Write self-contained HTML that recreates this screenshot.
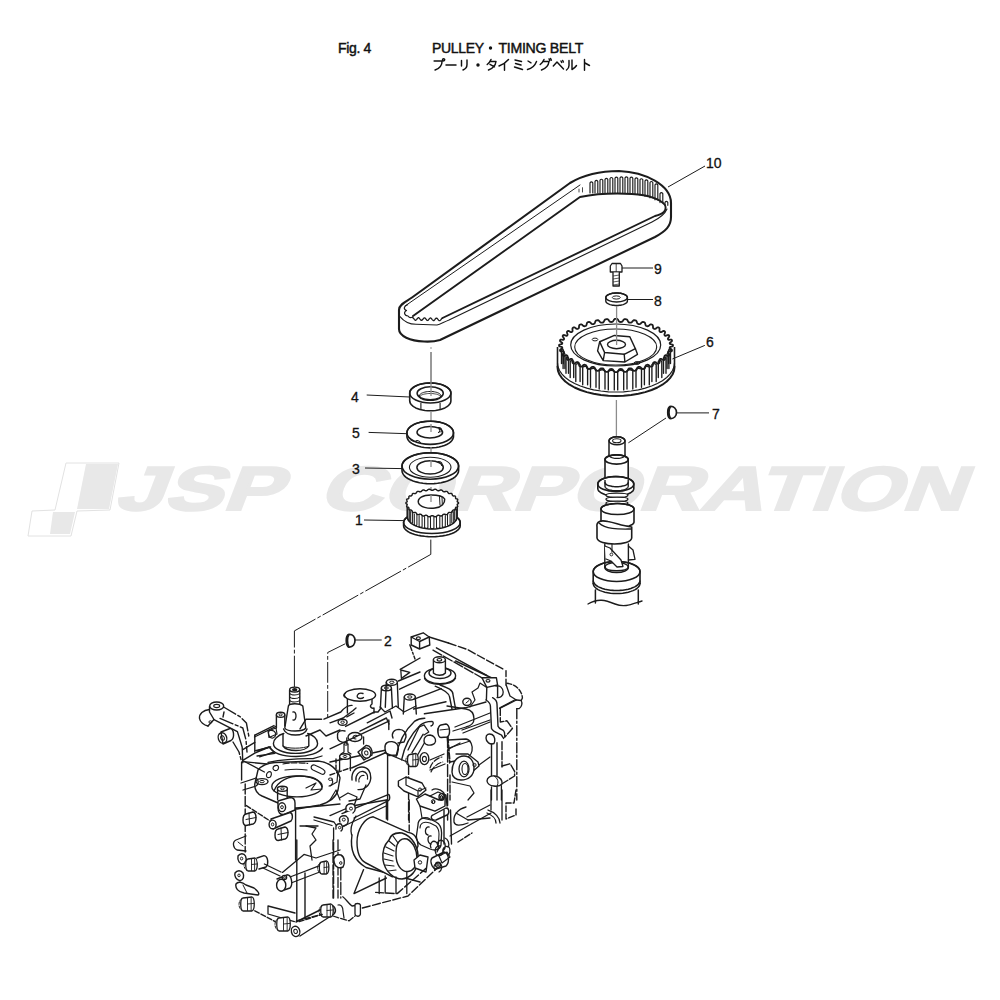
<!DOCTYPE html>
<html><head><meta charset="utf-8"><style>
html,body{margin:0;padding:0;background:#fff;}
svg{display:block;}
</style></head><body>
<svg width="1000" height="1000" viewBox="0 0 1000 1000" font-family="Liberation Sans, sans-serif">
<rect width="1000" height="1000" fill="#fff"/>
<path d="M66,463 L119,463 L110,510 L77,511 L71,536 L28,536 L32,511 L55,510 Z" fill="none" stroke="#e2e2e2" stroke-width="1" stroke-linejoin="round"/>
<path d="M86,464 L118,464 L109,509 L77,509 Z" fill="#e8e8e8"/>
<path d="M53,512 L75,512 L70,534 L50,534 Z" fill="#e8e8e8"/>
<g transform="translate(0,510) skewX(-21)"><text x="114" y="0" font-family="Liberation Sans" font-weight="bold" font-size="62" fill="#e8e8e8" stroke="#e8e8e8" stroke-width="2.2" textLength="166" lengthAdjust="spacingAndGlyphs">JSP</text></g>
<g transform="translate(0,510) skewX(-21)"><text x="318" y="0" font-family="Liberation Sans" font-weight="bold" font-size="62" fill="#e8e8e8" stroke="#e8e8e8" stroke-width="2.2" textLength="645" lengthAdjust="spacingAndGlyphs">CORPORATION</text></g>
<text x="338" y="52.8" font-family="Liberation Sans" font-size="14" fill="#111" stroke="#111" stroke-width="0.45" letter-spacing="-0.35">Fig. 4</text>
<text x="432" y="52.8" font-family="Liberation Sans" font-size="14" fill="#111" stroke="#111" stroke-width="0.45" letter-spacing="-0.3">PULLEY</text>
<circle cx="490.5" cy="48" r="1.7" fill="#111"/>
<text x="498.5" y="52.8" font-family="Liberation Sans" font-size="14" fill="#111" stroke="#111" stroke-width="0.45" letter-spacing="-0.3" textLength="84.5" lengthAdjust="spacingAndGlyphs">TIMING BELT</text>
<path d="M399,310 C399,304 407,301.1 412,297.5 L570,183 C585,174 600,171 619,171 C645,172 671,185 671,203 L671,217 C671,226 666,231 655,237 L440,340 C435,341.5 430,341.8 424,341.5 C410,341 399,336 399,329 Z" fill="#fff" stroke="#1c1c1c" stroke-width="2.1" stroke-linecap="round" stroke-linejoin="round" />
<path d="M405,306 L580,185" fill="none" stroke="#1c1c1c" stroke-width="1" stroke-linecap="round" stroke-linejoin="round" />
<path d="M413,316 L580,197 C600,193 615,193 632,194 C648,195 660,199 665,205 C667,210 664,214 655,216 L442.5,318" fill="none" stroke="#1c1c1c" stroke-width="1.9" stroke-linecap="round" stroke-linejoin="round" />
<path d="M400,316.6 C404,321.5 410,324.3 416,324.3 L437,325 C440,324.5 443,322.5 449,320 L652,222 C660,218 665,214 667,209" fill="none" stroke="#1c1c1c" stroke-width="1.1" stroke-linecap="round" stroke-linejoin="round" />
<path d="M590.0,193.0 L590.0,182.8 Q591.4,180.8 592.8,182.8 L592.8,193.0" fill="none" stroke="#1c1c1c" stroke-width="1.15" stroke-linecap="round" stroke-linejoin="round" />
<path d="M595.0,193.0 L595.0,181.4 Q596.4,179.4 597.8,181.4 L597.8,193.0" fill="none" stroke="#1c1c1c" stroke-width="1.15" stroke-linecap="round" stroke-linejoin="round" />
<path d="M600.0,193.0 L600.0,180.2 Q601.4,178.2 602.8,180.2 L602.8,193.0" fill="none" stroke="#1c1c1c" stroke-width="1.15" stroke-linecap="round" stroke-linejoin="round" />
<path d="M605.0,193.0 L605.0,179.3 Q606.4,177.3 607.8,179.3 L607.8,193.0" fill="none" stroke="#1c1c1c" stroke-width="1.15" stroke-linecap="round" stroke-linejoin="round" />
<path d="M610.0,193.0 L610.0,178.5 Q611.4,176.5 612.8,178.5 L612.8,193.0" fill="none" stroke="#1c1c1c" stroke-width="1.15" stroke-linecap="round" stroke-linejoin="round" />
<path d="M615.0,193.0 L615.0,178.1 Q616.4,176.1 617.8,178.1 L617.8,193.0" fill="none" stroke="#1c1c1c" stroke-width="1.15" stroke-linecap="round" stroke-linejoin="round" />
<path d="M620.0,193.0 L620.0,177.8 Q621.4,175.8 622.8,177.8 L622.8,193.0" fill="none" stroke="#1c1c1c" stroke-width="1.15" stroke-linecap="round" stroke-linejoin="round" />
<path d="M625.0,193.0 L625.0,177.8 Q626.4,175.8 627.8,177.8 L627.8,193.0" fill="none" stroke="#1c1c1c" stroke-width="1.15" stroke-linecap="round" stroke-linejoin="round" />
<path d="M630.0,193.4 L630.0,178.1 Q631.4,176.1 632.8,178.1 L632.8,193.4" fill="none" stroke="#1c1c1c" stroke-width="1.15" stroke-linecap="round" stroke-linejoin="round" />
<path d="M635.0,194.0 L635.0,178.8 Q636.4,176.8 637.8,178.8 L637.8,194.0" fill="none" stroke="#1c1c1c" stroke-width="1.15" stroke-linecap="round" stroke-linejoin="round" />
<path d="M640.0,195.0 L640.0,179.7 Q641.4,177.7 642.8,179.7 L642.8,195.0" fill="none" stroke="#1c1c1c" stroke-width="1.15" stroke-linecap="round" stroke-linejoin="round" />
<path d="M645.0,196.2 L645.0,180.9 Q646.4,178.9 647.8,180.9 L647.8,196.2" fill="none" stroke="#1c1c1c" stroke-width="1.15" stroke-linecap="round" stroke-linejoin="round" />
<path d="M650.0,197.8 L650.0,182.5 Q651.4,180.5 652.8,182.5 L652.8,197.8" fill="none" stroke="#1c1c1c" stroke-width="1.15" stroke-linecap="round" stroke-linejoin="round" />
<path d="M655.0,199.8 L655.0,184.9 Q656.4,182.9 657.8,184.9 L657.8,199.8" fill="none" stroke="#1c1c1c" stroke-width="1.15" stroke-linecap="round" stroke-linejoin="round" />
<path d="M660.0,202.6 L660.0,193.6 Q661.4,191.6 662.8,193.6 L662.8,202.6" fill="none" stroke="#1c1c1c" stroke-width="1.15" stroke-linecap="round" stroke-linejoin="round" />
<path d="M665.0,205.3 L665.0,202.4 Q666.4,200.4 667.8,202.4 L667.8,205.3" fill="none" stroke="#1c1c1c" stroke-width="1.15" stroke-linecap="round" stroke-linejoin="round" />
<path d="M579,189.1 L579,192.0" fill="none" stroke="#1c1c1c" stroke-width="0.8" stroke-linecap="round" stroke-linejoin="round" />
<path d="M582.5,187.7 L582.5,192.0" fill="none" stroke="#1c1c1c" stroke-width="0.8" stroke-linecap="round" stroke-linejoin="round" />
<path d="M412.5,317.6 L413.0,317.8 L413.5,318.3 L414.0,318.9 L414.5,319.6 L415.0,320.1 L415.5,320.3 L416.0,320.1 L416.5,319.6 L417.0,319.0 L417.5,318.4 L418.0,317.9 L418.5,317.7 L419.0,317.9 L419.5,318.4 L420.0,319.1 L420.5,319.7 L421.0,320.2 L421.5,320.4 L422.0,320.2 L422.5,319.8 L423.0,319.1 L423.5,318.5 L424.0,318.0 L424.5,317.8 L425.0,318.0 L425.5,318.5 L426.0,319.2 L426.5,319.8 L427.0,320.3 L427.5,320.5 L428.0,320.3 L428.5,319.9 L429.0,319.2 L429.5,318.6 L430.0,318.1 L430.5,318.0 L431.0,318.1 L431.5,318.6 L432.0,319.3 L432.5,319.9 L433.0,320.4 L433.5,320.6 L434.0,320.5 L434.5,320.0 L435.0,319.4 L435.5,318.7 L436.0,318.2 L436.5,318.1 L437.0,318.3 L437.5,318.8 L438.0,319.4 L438.5,320.1 L439.0,320.6 L439.5,320.7 L440.0,320.6 L440.5,320.1 L441.0,319.5 L441.5,318.8 L442.0,318.4 L442.5,318.2" fill="none" stroke="#1c1c1c" stroke-width="1.3" stroke-linecap="round" stroke-linejoin="round" />
<path d="M407.6,304.7 C404,306 403,309 406.5,310.5 C403.5,312 404,315.5 408,316 C409,317.5 411,318 412.5,317" fill="none" stroke="#1c1c1c" stroke-width="1.2" stroke-linecap="round" stroke-linejoin="round" />
<line x1="668" y1="187" x2="705" y2="166" stroke="#1c1c1c" stroke-width="1" />
<text x="706" y="167.5" font-family="Liberation Sans" font-size="14" fill="#111" stroke="#111" stroke-width="0.3">10</text>
<line x1="431" y1="347.2" x2="431" y2="348.8" stroke="#8c8c8c" stroke-width="1.2" />
<line x1="431" y1="352" x2="431" y2="395" stroke="#8c8c8c" stroke-width="1.3" />
<path d="M409.7,393 L409.7,400.8 L409.7,400.8 L409.9,402.1 L410.4,403.4 L411.3,404.6 L412.5,405.8 L414.0,406.9 L415.7,407.9 L417.8,408.7 L420.0,409.5 L422.4,410.0 L425.0,410.5 L427.6,410.7 L430.3,410.8 L433.0,410.7 L435.6,410.5 L438.2,410.0 L440.6,409.5 L442.8,408.7 L444.9,407.9 L446.6,406.9 L448.1,405.8 L449.3,404.6 L450.2,403.4 L450.7,402.1 L450.9,400.8 L450.90000000000003,393 L450.9,393.0 L450.7,391.7 L450.2,390.4 L449.3,389.2 L448.1,388.0 L446.6,386.9 L444.9,385.9 L442.8,385.1 L440.6,384.3 L438.2,383.8 L435.6,383.3 L433.0,383.1 L430.3,383.0 L427.6,383.1 L425.0,383.3 L422.4,383.8 L420.0,384.3 L417.8,385.1 L415.7,385.9 L414.0,386.9 L412.5,388.0 L411.3,389.2 L410.4,390.4 L409.9,391.7 L409.7,393.0Z" fill="#fff" stroke="#1c1c1c" stroke-width="1.6" stroke-linecap="round" stroke-linejoin="round" />
<ellipse cx="430.3" cy="393" rx="20.6" ry="10" fill="none" stroke="#1c1c1c" stroke-width="1.6" />
<ellipse cx="430.2" cy="393.3" rx="13.1" ry="6.5" fill="#fff" stroke="#1c1c1c" stroke-width="1.5" />
<path d="M419.4,395.8 L419.5,395.2 L419.8,394.7 L420.2,394.2 L420.8,393.7 L421.6,393.2 L422.6,392.8 L423.6,392.4 L424.8,392.1 L426.1,391.8 L427.4,391.6 L428.8,391.5 L430.2,391.5 L431.6,391.5 L433.0,391.6 L434.3,391.8 L435.6,392.1 L436.8,392.4 L437.8,392.8 L438.8,393.2 L439.6,393.7 L440.2,394.2 L440.6,394.7 L440.9,395.2 L441.0,395.8" fill="none" stroke="#1c1c1c" stroke-width="1.0" stroke-linecap="round" stroke-linejoin="round" />
<path d="M419.7,397.0 L419.8,396.5 L420.1,396.1 L420.5,395.7 L421.1,395.2 L421.9,394.9 L422.8,394.5 L423.8,394.2 L424.9,394.0 L426.2,393.8 L427.5,393.6 L428.8,393.5 L430.2,393.5 L431.6,393.5 L432.9,393.6 L434.2,393.8 L435.4,394.0 L436.6,394.2 L437.6,394.5 L438.5,394.9 L439.3,395.2 L439.9,395.7 L440.3,396.1 L440.6,396.5 L440.7,397.0" fill="none" stroke="#1c1c1c" stroke-width="0.8" stroke-linecap="round" stroke-linejoin="round" />
<path d="M441.0,396.3 L440.9,396.8 L440.6,397.3 L440.2,397.8 L439.6,398.3 L438.8,398.7 L437.8,399.1 L436.8,399.5 L435.6,399.8 L434.3,400.0 L433.0,400.2 L431.6,400.3 L430.2,400.3 L428.8,400.3 L427.4,400.2 L426.1,400.0 L424.8,399.8 L423.6,399.5 L422.6,399.1 L421.6,398.7 L420.8,398.3 L420.2,397.8 L419.8,397.3 L419.5,396.8 L419.4,396.3" fill="none" stroke="#1c1c1c" stroke-width="1.4" stroke-linecap="round" stroke-linejoin="round" />
<line x1="431" y1="352" x2="431" y2="396" stroke="#8c8c8c" stroke-width="1.3" />
<line x1="420.9" y1="403" x2="420.9" y2="409.5" stroke="#1c1c1c" stroke-width="1.1" />
<line x1="440.1" y1="403" x2="440.1" y2="409.5" stroke="#1c1c1c" stroke-width="1.1" />
<line x1="366.7" y1="395" x2="409.6" y2="397" stroke="#1c1c1c" stroke-width="1" />
<text x="351" y="402" font-family="Liberation Sans" font-size="14" fill="#111" stroke="#111" stroke-width="0.3">4</text>
<line x1="431" y1="412" x2="431" y2="428" stroke="#8c8c8c" stroke-width="1.3" />
<path d="M406.9,432.8 L406.9,436.3 L406.9,436.3 L407.1,437.8 L407.7,439.3 L408.7,440.7 L410.0,442.1 L411.7,443.4 L413.7,444.5 L416.0,445.5 L418.6,446.3 L421.3,447.0 L424.2,447.5 L427.2,447.8 L430.2,447.9 L433.2,447.8 L436.2,447.5 L439.1,447.0 L441.8,446.3 L444.4,445.5 L446.7,444.5 L448.7,443.4 L450.4,442.1 L451.7,440.7 L452.7,439.3 L453.3,437.8 L453.5,436.3 L453.5,432.8 L453.5,432.8 L453.3,431.3 L452.7,429.8 L451.7,428.4 L450.4,427.0 L448.7,425.7 L446.7,424.6 L444.4,423.6 L441.8,422.8 L439.1,422.1 L436.2,421.6 L433.2,421.3 L430.2,421.2 L427.2,421.3 L424.2,421.6 L421.3,422.1 L418.6,422.8 L416.0,423.6 L413.7,424.6 L411.7,425.7 L410.0,427.0 L408.7,428.4 L407.7,429.8 L407.1,431.3 L406.9,432.8Z" fill="#fff" stroke="#1c1c1c" stroke-width="1.6" stroke-linecap="round" stroke-linejoin="round" />
<ellipse cx="430.2" cy="432.8" rx="23.3" ry="11.6" fill="none" stroke="#1c1c1c" stroke-width="1.6" />
<ellipse cx="429.8" cy="432.2" rx="12.8" ry="5.8" fill="#fff" stroke="#1c1c1c" stroke-width="1.5" />
<line x1="431" y1="424" x2="431" y2="432" stroke="#8c8c8c" stroke-width="1.3" />
<path d="M437.5,427.5 C441,427 442.5,429.5 441,432 M439,429 C440.5,430 440,432 438.5,432.5" fill="none" stroke="#1c1c1c" stroke-width="1.1" stroke-linecap="round" stroke-linejoin="round" />
<path d="M411,440 C414,442 415,442 417,440.5 C419,440 420,442 421,443.5" fill="none" stroke="#1c1c1c" stroke-width="1.1" stroke-linecap="round" stroke-linejoin="round" />
<line x1="368.6" y1="432.4" x2="406.9" y2="433.7" stroke="#1c1c1c" stroke-width="1" />
<text x="352" y="438" font-family="Liberation Sans" font-size="14" fill="#111" stroke="#111" stroke-width="0.3">5</text>
<line x1="431" y1="447" x2="431" y2="462" stroke="#8c8c8c" stroke-width="1.3" />
<path d="M402.0,466 L402.0,470.5 L402.0,470.5 L402.2,472.2 L403.0,473.9 L404.2,475.6 L405.8,477.1 L407.8,478.5 L410.3,479.8 L413.1,481.0 L416.2,481.9 L419.5,482.7 L423.0,483.3 L426.6,483.6 L430.3,483.7 L434.0,483.6 L437.6,483.3 L441.1,482.7 L444.4,481.9 L447.5,481.0 L450.3,479.8 L452.8,478.5 L454.8,477.1 L456.4,475.6 L457.6,473.9 L458.4,472.2 L458.6,470.5 L458.6,466 L458.6,466.0 L458.4,464.3 L457.6,462.6 L456.4,460.9 L454.8,459.4 L452.8,458.0 L450.3,456.7 L447.5,455.5 L444.4,454.6 L441.1,453.8 L437.6,453.2 L434.0,452.9 L430.3,452.8 L426.6,452.9 L423.0,453.2 L419.5,453.8 L416.2,454.6 L413.1,455.5 L410.3,456.7 L407.8,458.0 L405.8,459.4 L404.2,460.9 L403.0,462.6 L402.2,464.3 L402.0,466.0Z" fill="#fff" stroke="#1c1c1c" stroke-width="1.6" stroke-linecap="round" stroke-linejoin="round" />
<ellipse cx="430.3" cy="466" rx="28.3" ry="13.2" fill="none" stroke="#1c1c1c" stroke-width="1.6" />
<ellipse cx="430.2" cy="467.2" rx="20.8" ry="10" fill="none" stroke="#1c1c1c" stroke-width="1.1" />
<ellipse cx="430.1" cy="467.4" rx="13.2" ry="6.6" fill="#fff" stroke="#1c1c1c" stroke-width="1.5" />
<line x1="431" y1="460" x2="431" y2="467" stroke="#8c8c8c" stroke-width="1.3" />
<path d="M438,461.5 C441.5,461.5 443,463.5 441.5,465.5" fill="none" stroke="#1c1c1c" stroke-width="1.1" stroke-linecap="round" stroke-linejoin="round" />
<line x1="365" y1="468" x2="402" y2="468.6" stroke="#1c1c1c" stroke-width="1" />
<text x="352" y="474" font-family="Liberation Sans" font-size="14" fill="#111" stroke="#111" stroke-width="0.3">3</text>
<line x1="431" y1="487" x2="431" y2="500" stroke="#8c8c8c" stroke-width="1.3" />
<path d="M403.59999999999997,522.5 L403.59999999999997,525.7 L403.6,525.7 L403.8,527.1 L404.6,528.5 L405.8,529.9 L407.4,531.2 L409.4,532.4 L411.9,533.5 L414.7,534.4 L417.8,535.2 L421.1,535.9 L424.6,536.3 L428.2,536.6 L431.9,536.7 L435.6,536.6 L439.2,536.3 L442.7,535.9 L446.0,535.2 L449.1,534.4 L451.9,533.5 L454.4,532.4 L456.4,531.2 L458.0,529.9 L459.2,528.5 L460.0,527.1 L460.2,525.7 L460.2,522.5 L460.2,522.5 L460.0,521.1 L459.2,519.7 L458.0,518.3 L456.4,517.0 L454.4,515.8 L451.9,514.7 L449.1,513.8 L446.0,513.0 L442.7,512.3 L439.2,511.9 L435.6,511.6 L431.9,511.5 L428.2,511.6 L424.6,511.9 L421.1,512.3 L417.8,513.0 L414.7,513.8 L411.9,514.7 L409.4,515.8 L407.4,517.0 L405.8,518.3 L404.6,519.7 L403.8,521.1 L403.6,522.5Z" fill="#fff" stroke="#1c1c1c" stroke-width="1.6" stroke-linecap="round" stroke-linejoin="round" />
<ellipse cx="431.9" cy="522.5" rx="28.3" ry="11" fill="none" stroke="#1c1c1c" stroke-width="1.6" />
<path d="M407.2,503 L407.2,516.5 L407.2,516.5 L407.4,518.1 L408.1,519.7 L409.1,521.3 L410.5,522.8 L412.4,524.1 L414.5,525.3 L417.0,526.4 L419.7,527.3 L422.6,528.0 L425.7,528.6 L428.9,528.9 L432.2,529.0 L435.5,528.9 L438.7,528.6 L441.8,528.0 L444.7,527.3 L447.4,526.4 L449.9,525.3 L452.0,524.1 L453.9,522.8 L455.3,521.3 L456.3,519.7 L457.0,518.1 L457.2,516.5 L457.2,503Z" fill="#fff" stroke="#1c1c1c" stroke-width="1.5" stroke-linecap="round" stroke-linejoin="round" />
<path d="M458.5,503.0 L458.5,503.2 L458.4,503.5 L458.2,503.7 L457.8,503.9 L457.5,504.0 L457.3,504.2 L457.2,504.4 L457.2,504.6 L457.2,504.8 L457.2,505.1 L457.4,505.3 L457.6,505.7 L457.7,506.0 L457.8,506.2 L457.7,506.5 L457.6,506.7 L457.4,506.9 L457.1,507.0 L456.8,507.1 L456.4,507.1 L456.1,507.2 L455.9,507.4 L455.7,507.5 L455.6,507.7 L455.5,508.0 L455.5,508.3 L455.6,508.7 L455.6,509.0 L455.5,509.4 L455.4,509.6 L455.2,509.8 L455.0,510.0 L454.7,510.1 L454.3,510.1 L453.9,510.0 L453.5,510.0 L453.2,510.1 L453.0,510.2 L452.8,510.3 L452.6,510.6 L452.4,510.8 L452.3,511.2 L452.2,511.6 L452.1,512.0 L451.9,512.2 L451.6,512.4 L451.3,512.6 L451.0,512.6 L450.6,512.6 L450.2,512.5 L449.8,512.4 L449.4,512.4 L449.1,512.4 L448.8,512.5 L448.5,512.7 L448.3,512.9 L448.0,513.3 L447.8,513.7 L447.6,514.0 L447.3,514.3 L447.0,514.5 L446.7,514.6 L446.3,514.6 L445.9,514.6 L445.5,514.5 L445.1,514.3 L444.7,514.2 L444.3,514.2 L443.9,514.2 L443.6,514.3 L443.3,514.5 L442.9,514.7 L442.6,515.1 L442.3,515.5 L442.0,515.7 L441.7,515.9 L441.3,516.0 L440.9,516.0 L440.5,516.0 L440.1,515.9 L439.7,515.6 L439.2,515.4 L438.8,515.3 L438.4,515.3 L438.1,515.3 L437.7,515.4 L437.3,515.6 L436.9,515.9 L436.6,516.2 L436.2,516.5 L435.8,516.6 L435.4,516.7 L435.0,516.7 L434.6,516.7 L434.2,516.5 L433.8,516.3 L433.4,516.0 L433.0,515.8 L432.6,515.7 L432.2,515.7 L431.8,515.7 L431.4,515.8 L431.0,516.0 L430.6,516.3 L430.2,516.5 L429.8,516.7 L429.4,516.7 L429.0,516.7 L428.6,516.6 L428.2,516.5 L427.8,516.2 L427.5,515.9 L427.1,515.6 L426.7,515.4 L426.3,515.3 L426.0,515.3 L425.6,515.3 L425.2,515.4 L424.7,515.6 L424.3,515.9 L423.9,516.0 L423.5,516.0 L423.1,516.0 L422.7,515.9 L422.4,515.7 L422.1,515.5 L421.8,515.1 L421.5,514.7 L421.1,514.5 L420.8,514.3 L420.5,514.2 L420.1,514.2 L419.7,514.2 L419.3,514.3 L418.9,514.5 L418.5,514.6 L418.1,514.6 L417.7,514.6 L417.4,514.5 L417.1,514.3 L416.8,514.0 L416.6,513.7 L416.4,513.3 L416.1,512.9 L415.9,512.7 L415.6,512.5 L415.3,512.4 L415.0,512.4 L414.6,512.4 L414.2,512.5 L413.8,512.6 L413.4,512.6 L413.1,512.6 L412.8,512.4 L412.5,512.2 L412.3,512.0 L412.2,511.6 L412.1,511.2 L412.0,510.8 L411.8,510.6 L411.6,510.3 L411.4,510.2 L411.2,510.1 L410.9,510.0 L410.5,510.0 L410.1,510.1 L409.7,510.1 L409.4,510.0 L409.2,509.8 L409.0,509.6 L408.9,509.4 L408.8,509.0 L408.8,508.7 L408.9,508.3 L408.9,508.0 L408.8,507.7 L408.7,507.5 L408.5,507.4 L408.3,507.2 L408.0,507.1 L407.6,507.1 L407.3,507.0 L407.0,506.9 L406.8,506.7 L406.7,506.5 L406.6,506.2 L406.7,506.0 L406.8,505.7 L407.0,505.3 L407.2,505.1 L407.2,504.8 L407.2,504.6 L407.2,504.4 L407.1,504.2 L406.9,504.0 L406.6,503.9 L406.2,503.7 L406.0,503.5 L405.9,503.2 L405.9,503.0 L405.9,502.8 L406.0,502.5 L406.2,502.3 L406.6,502.1 L406.9,502.0 L407.1,501.8 L407.2,501.6 L407.2,501.4 L407.2,501.2 L407.2,500.9 L407.0,500.7 L406.8,500.3 L406.7,500.0 L406.6,499.8 L406.7,499.5 L406.8,499.3 L407.0,499.1 L407.3,499.0 L407.6,498.9 L408.0,498.9 L408.3,498.8 L408.5,498.6 L408.7,498.5 L408.8,498.3 L408.9,498.0 L408.9,497.7 L408.8,497.3 L408.8,497.0 L408.9,496.6 L409.0,496.4 L409.2,496.2 L409.4,496.0 L409.7,495.9 L410.1,495.9 L410.5,496.0 L410.9,496.0 L411.2,495.9 L411.4,495.8 L411.6,495.7 L411.8,495.4 L412.0,495.2 L412.1,494.8 L412.2,494.4 L412.3,494.0 L412.5,493.8 L412.8,493.6 L413.1,493.4 L413.4,493.4 L413.8,493.4 L414.2,493.5 L414.6,493.6 L415.0,493.6 L415.3,493.6 L415.6,493.5 L415.9,493.3 L416.1,493.1 L416.4,492.7 L416.6,492.3 L416.8,492.0 L417.1,491.7 L417.4,491.5 L417.7,491.4 L418.1,491.4 L418.5,491.4 L418.9,491.5 L419.3,491.7 L419.7,491.8 L420.1,491.8 L420.5,491.8 L420.8,491.7 L421.1,491.5 L421.5,491.3 L421.8,490.9 L422.1,490.5 L422.4,490.3 L422.7,490.1 L423.1,490.0 L423.5,490.0 L423.9,490.0 L424.3,490.1 L424.7,490.4 L425.2,490.6 L425.6,490.7 L426.0,490.7 L426.3,490.7 L426.7,490.6 L427.1,490.4 L427.5,490.1 L427.8,489.8 L428.2,489.5 L428.6,489.4 L429.0,489.3 L429.4,489.3 L429.8,489.3 L430.2,489.5 L430.6,489.7 L431.0,490.0 L431.4,490.2 L431.8,490.3 L432.2,490.3 L432.6,490.3 L433.0,490.2 L433.4,490.0 L433.8,489.7 L434.2,489.5 L434.6,489.3 L435.0,489.3 L435.4,489.3 L435.8,489.4 L436.2,489.5 L436.6,489.8 L436.9,490.1 L437.3,490.4 L437.7,490.6 L438.1,490.7 L438.4,490.7 L438.8,490.7 L439.2,490.6 L439.7,490.4 L440.1,490.1 L440.5,490.0 L440.9,490.0 L441.3,490.0 L441.7,490.1 L442.0,490.3 L442.3,490.5 L442.6,490.9 L442.9,491.3 L443.3,491.5 L443.6,491.7 L443.9,491.8 L444.3,491.8 L444.7,491.8 L445.1,491.7 L445.5,491.5 L445.9,491.4 L446.3,491.4 L446.7,491.4 L447.0,491.5 L447.3,491.7 L447.6,492.0 L447.8,492.3 L448.0,492.7 L448.3,493.1 L448.5,493.3 L448.8,493.5 L449.1,493.6 L449.4,493.6 L449.8,493.6 L450.2,493.5 L450.6,493.4 L451.0,493.4 L451.3,493.4 L451.6,493.6 L451.9,493.8 L452.1,494.0 L452.2,494.4 L452.3,494.8 L452.4,495.2 L452.6,495.4 L452.8,495.7 L453.0,495.8 L453.2,495.9 L453.5,496.0 L453.9,496.0 L454.3,495.9 L454.7,495.9 L455.0,496.0 L455.2,496.2 L455.4,496.4 L455.5,496.6 L455.6,497.0 L455.6,497.3 L455.5,497.7 L455.5,498.0 L455.6,498.3 L455.7,498.5 L455.9,498.6 L456.1,498.8 L456.4,498.9 L456.8,498.9 L457.1,499.0 L457.4,499.1 L457.6,499.3 L457.7,499.5 L457.8,499.8 L457.7,500.0 L457.6,500.3 L457.4,500.7 L457.2,500.9 L457.2,501.2 L457.2,501.4 L457.2,501.6 L457.3,501.8 L457.5,502.0 L457.8,502.1 L458.2,502.3 L458.4,502.5 L458.5,502.8 L458.5,503.0Z" fill="#fff" stroke="#1c1c1c" stroke-width="1.4" stroke-linecap="round" stroke-linejoin="round" />
<path d="M454.7,508.9 L454.7,519.9 Q455.6,521.4 456.4,519.9 L456.4,508.9" fill="none" stroke="#1c1c1c" stroke-width="1.05" stroke-linecap="round" stroke-linejoin="round" />
<path d="M451.8,511.6 L451.8,522.6 Q452.8,524.1 453.7,522.6 L453.7,511.6" fill="none" stroke="#1c1c1c" stroke-width="1.05" stroke-linecap="round" stroke-linejoin="round" />
<path d="M447.5,513.9 L447.5,524.9 Q448.8,526.4 450.1,524.9 L450.1,513.9" fill="none" stroke="#1c1c1c" stroke-width="1.05" stroke-linecap="round" stroke-linejoin="round" />
<path d="M442.3,515.6 L442.3,526.6 Q443.8,528.1 445.3,526.6 L445.3,515.6" fill="none" stroke="#1c1c1c" stroke-width="1.05" stroke-linecap="round" stroke-linejoin="round" />
<path d="M436.5,516.6 L436.5,527.6 Q438.2,529.1 439.8,527.6 L439.8,516.6" fill="none" stroke="#1c1c1c" stroke-width="1.05" stroke-linecap="round" stroke-linejoin="round" />
<path d="M430.5,517.0 L430.5,528.0 Q432.2,529.5 433.9,528.0 L433.9,517.0" fill="none" stroke="#1c1c1c" stroke-width="1.05" stroke-linecap="round" stroke-linejoin="round" />
<path d="M424.6,516.6 L424.6,527.6 Q426.2,529.1 427.9,527.6 L427.9,516.6" fill="none" stroke="#1c1c1c" stroke-width="1.05" stroke-linecap="round" stroke-linejoin="round" />
<path d="M419.1,515.6 L419.1,526.6 Q420.6,528.1 422.1,526.6 L422.1,515.6" fill="none" stroke="#1c1c1c" stroke-width="1.05" stroke-linecap="round" stroke-linejoin="round" />
<path d="M414.3,513.9 L414.3,524.9 Q415.6,526.4 416.9,524.9 L416.9,513.9" fill="none" stroke="#1c1c1c" stroke-width="1.05" stroke-linecap="round" stroke-linejoin="round" />
<path d="M410.7,511.6 L410.7,522.6 Q411.6,524.1 412.6,522.6 L412.6,511.6" fill="none" stroke="#1c1c1c" stroke-width="1.05" stroke-linecap="round" stroke-linejoin="round" />
<path d="M408.0,508.9 L408.0,519.9 Q408.8,521.4 409.7,519.9 L409.7,508.9" fill="none" stroke="#1c1c1c" stroke-width="1.05" stroke-linecap="round" stroke-linejoin="round" />
<path d="M418.5,503 C417,498 423,495 431,495 C438,495 443,496 444.7,499 C445,503 442,507 435,508 C428,509 420,507 418.5,503 Z" fill="#fff" stroke="#1c1c1c" stroke-width="1.5" stroke-linecap="round" stroke-linejoin="round" />
<path d="M439.5,496.5 L440,505 M442,497 L442.3,504" fill="none" stroke="#1c1c1c" stroke-width="1" stroke-linecap="round" stroke-linejoin="round" />
<line x1="431" y1="495" x2="431" y2="502" stroke="#8c8c8c" stroke-width="1.3" />
<line x1="364" y1="520" x2="403.4" y2="520.6" stroke="#1c1c1c" stroke-width="1" />
<text x="355" y="525" font-family="Liberation Sans" font-size="14" fill="#111" stroke="#111" stroke-width="0.3">1</text>
<path d="M610.3,266 L612,263.5 L620.5,263.5 L622,266 L622,272 L610.3,272 Z" fill="#fff" stroke="#1c1c1c" stroke-width="1.3" stroke-linecap="round" stroke-linejoin="round" />
<line x1="616.2" y1="264" x2="616.2" y2="272" stroke="#1c1c1c" stroke-width="0.8" />
<path d="M613,272.5 L613,286 L619.3,286 L619.3,272.5" fill="#fff" stroke="#1c1c1c" stroke-width="1.3" stroke-linecap="round" stroke-linejoin="round" />
<line x1="613" y1="276" x2="619.3" y2="275" stroke="#1c1c1c" stroke-width="0.7" />
<line x1="613" y1="279" x2="619.3" y2="278" stroke="#1c1c1c" stroke-width="0.7" />
<line x1="613" y1="282" x2="619.3" y2="281" stroke="#1c1c1c" stroke-width="0.7" />
<line x1="613" y1="285" x2="619.3" y2="284" stroke="#1c1c1c" stroke-width="0.7" />
<line x1="622" y1="268" x2="653" y2="268" stroke="#1c1c1c" stroke-width="1" />
<text x="654" y="274" font-family="Liberation Sans" font-size="14" fill="#111" stroke="#111" stroke-width="0.3">9</text>
<path d="M605.8000000000001,297.5 L605.8000000000001,301.0 L605.8,301.0 L605.9,301.6 L606.2,302.2 L606.6,302.7 L607.2,303.2 L608.0,303.7 L609.0,304.2 L610.0,304.6 L611.2,304.9 L612.5,305.2 L613.8,305.3 L615.2,305.5 L616.6,305.5 L618.0,305.5 L619.4,305.3 L620.7,305.2 L622.0,304.9 L623.2,304.6 L624.2,304.2 L625.2,303.7 L626.0,303.2 L626.6,302.7 L627.0,302.2 L627.3,301.6 L627.4,301.0 L627.4,297.5 L627.4,297.5 L627.3,296.9 L627.0,296.3 L626.6,295.8 L626.0,295.2 L625.2,294.8 L624.2,294.3 L623.2,293.9 L622.0,293.6 L620.7,293.3 L619.4,293.2 L618.0,293.0 L616.6,293.0 L615.2,293.0 L613.8,293.2 L612.5,293.3 L611.2,293.6 L610.0,293.9 L609.0,294.3 L608.0,294.8 L607.2,295.2 L606.6,295.8 L606.2,296.3 L605.9,296.9 L605.8,297.5Z" fill="#fff" stroke="#1c1c1c" stroke-width="1.4" stroke-linecap="round" stroke-linejoin="round" />
<ellipse cx="616.6" cy="297.5" rx="10.8" ry="4.5" fill="none" stroke="#1c1c1c" stroke-width="1.4" />
<ellipse cx="616.3" cy="297.5" rx="4" ry="1.6" fill="none" stroke="#1c1c1c" stroke-width="1" />
<line x1="627.4" y1="299.5" x2="653" y2="299.5" stroke="#1c1c1c" stroke-width="1" />
<text x="654" y="305.5" font-family="Liberation Sans" font-size="14" fill="#111" stroke="#111" stroke-width="0.3">8</text>
<line x1="616.6" y1="306" x2="616.6" y2="343" stroke="#8c8c8c" stroke-width="1.3" />
<path d="M674.5,367.0 L674.0,370.8 L672.5,374.5 L670.0,378.1 L666.7,381.5 L662.4,384.7 L657.4,387.5 L651.6,390.0 L645.2,392.1 L638.4,393.8 L631.1,395.0 L623.6,395.8 L616.0,396.0 L608.4,395.8 L600.9,395.0 L593.6,393.8 L586.8,392.1 L580.4,390.0 L574.6,387.5 L569.6,384.7 L565.3,381.5 L562.0,378.1 L559.5,374.5 L558.0,370.8 L557.5,367.0" fill="none" stroke="#1c1c1c" stroke-width="2" stroke-linecap="round" stroke-linejoin="round" />
<path d="M674.5,363.0 L674.0,366.8 L672.5,370.5 L670.0,374.1 L666.7,377.5 L662.4,380.7 L657.4,383.5 L651.6,386.0 L645.2,388.1 L638.4,389.8 L631.1,391.0 L623.6,391.8 L616.0,392.0 L608.4,391.8 L600.9,391.0 L593.6,389.8 L586.8,388.1 L580.4,386.0 L574.6,383.5 L569.6,380.7 L565.3,377.5 L562.0,374.1 L559.5,370.5 L558.0,366.8 L557.5,363.0" fill="none" stroke="#1c1c1c" stroke-width="1.2" stroke-linecap="round" stroke-linejoin="round" />
<line x1="557.5" y1="347" x2="557.5" y2="367" stroke="#1c1c1c" stroke-width="1.6" />
<line x1="674.5" y1="347" x2="674.5" y2="367" stroke="#1c1c1c" stroke-width="1.6" />
<path d="M673.0,345.5 L672.9,345.8 L672.9,346.0 L672.6,346.3 L672.2,346.5 L671.4,346.7 L670.6,346.8 L670.1,347.0 L669.9,347.2 L669.8,347.4 L669.7,347.6 L669.7,347.8 L669.7,348.0 L669.9,348.3 L670.3,348.6 L670.9,349.0 L671.6,349.5 L671.9,349.9 L672.0,350.2 L672.0,350.5 L671.9,350.8 L671.8,351.0 L671.6,351.2 L671.3,351.4 L670.8,351.4 L670.0,351.3 L669.2,351.2 L668.7,351.2 L668.4,351.3 L668.2,351.5 L668.1,351.6 L668.0,351.9 L667.9,352.1 L667.9,352.4 L668.2,352.9 L668.6,353.5 L669.1,354.2 L669.3,354.7 L669.3,355.1 L669.2,355.3 L669.0,355.6 L668.8,355.8 L668.5,355.9 L668.2,356.0 L667.6,355.9 L666.9,355.6 L666.2,355.3 L665.6,355.2 L665.3,355.2 L665.1,355.4 L664.8,355.5 L664.7,355.7 L664.5,356.0 L664.4,356.3 L664.5,356.8 L664.8,357.6 L665.0,358.4 L665.1,358.9 L665.0,359.3 L664.8,359.6 L664.5,359.8 L664.2,360.0 L663.9,360.1 L663.5,360.1 L663.0,359.9 L662.3,359.5 L661.6,359.0 L661.1,358.8 L660.7,358.8 L660.4,358.9 L660.1,359.1 L659.9,359.3 L659.6,359.5 L659.5,359.9 L659.4,360.4 L659.5,361.2 L659.6,362.1 L659.5,362.6 L659.3,363.0 L659.0,363.2 L658.7,363.4 L658.3,363.6 L658.0,363.7 L657.6,363.6 L657.0,363.4 L656.4,362.9 L655.7,362.3 L655.2,362.1 L654.8,362.0 L654.4,362.1 L654.1,362.2 L653.8,362.4 L653.5,362.6 L653.2,362.9 L653.0,363.5 L653.0,364.4 L652.9,365.2 L652.7,365.8 L652.4,366.1 L652.0,366.3 L651.7,366.5 L651.3,366.6 L650.9,366.7 L650.4,366.6 L649.9,366.3 L649.3,365.7 L648.7,365.1 L648.1,364.8 L647.7,364.7 L647.3,364.8 L646.9,364.9 L646.5,365.0 L646.1,365.2 L645.8,365.5 L645.5,366.1 L645.3,366.9 L645.1,367.7 L644.9,368.3 L644.5,368.6 L644.1,368.8 L643.7,368.9 L643.2,369.0 L642.8,369.0 L642.3,368.9 L641.8,368.6 L641.2,368.0 L640.6,367.3 L640.1,367.0 L639.6,366.8 L639.2,366.9 L638.8,366.9 L638.3,367.0 L637.9,367.2 L637.5,367.5 L637.2,368.0 L636.9,368.8 L636.6,369.7 L636.2,370.2 L635.8,370.5 L635.3,370.6 L634.9,370.7 L634.4,370.8 L634.0,370.8 L633.5,370.6 L633.0,370.2 L632.4,369.5 L631.8,368.9 L631.3,368.5 L630.9,368.3 L630.4,368.3 L629.9,368.3 L629.5,368.4 L629.0,368.5 L628.6,368.8 L628.2,369.3 L627.8,370.1 L627.4,370.9 L627.0,371.4 L626.5,371.6 L626.1,371.7 L625.6,371.8 L625.1,371.8 L624.6,371.8 L624.1,371.6 L623.6,371.2 L623.1,370.4 L622.6,369.7 L622.1,369.3 L621.6,369.1 L621.2,369.0 L620.7,369.0 L620.2,369.1 L619.8,369.2 L619.3,369.4 L618.8,369.9 L618.4,370.6 L617.9,371.4 L617.4,371.9 L617.0,372.1 L616.5,372.1 L616.0,372.2 L615.5,372.1 L615.0,372.1 L614.6,371.9 L614.1,371.4 L613.6,370.6 L613.2,369.9 L612.7,369.4 L612.2,369.2 L611.8,369.1 L611.3,369.0 L610.8,369.0 L610.4,369.1 L609.9,369.3 L609.4,369.7 L608.9,370.4 L608.4,371.2 L607.9,371.6 L607.4,371.8 L606.9,371.8 L606.4,371.8 L605.9,371.7 L605.5,371.6 L605.0,371.4 L604.6,370.9 L604.2,370.1 L603.8,369.3 L603.4,368.8 L603.0,368.5 L602.5,368.4 L602.1,368.3 L601.6,368.3 L601.1,368.3 L600.7,368.5 L600.2,368.9 L599.6,369.5 L599.0,370.2 L598.5,370.6 L598.0,370.8 L597.6,370.8 L597.1,370.7 L596.7,370.6 L596.2,370.5 L595.8,370.2 L595.4,369.7 L595.1,368.8 L594.8,368.0 L594.5,367.5 L594.1,367.2 L593.7,367.0 L593.2,366.9 L592.8,366.9 L592.4,366.8 L591.9,367.0 L591.4,367.3 L590.8,368.0 L590.2,368.6 L589.7,368.9 L589.2,369.0 L588.8,369.0 L588.3,368.9 L587.9,368.8 L587.5,368.6 L587.1,368.3 L586.9,367.7 L586.7,366.9 L586.5,366.1 L586.2,365.5 L585.9,365.2 L585.5,365.0 L585.1,364.9 L584.7,364.8 L584.3,364.7 L583.9,364.8 L583.3,365.1 L582.7,365.7 L582.1,366.3 L581.6,366.6 L581.1,366.7 L580.7,366.6 L580.3,366.5 L580.0,366.3 L579.6,366.1 L579.3,365.8 L579.1,365.2 L579.0,364.4 L579.0,363.5 L578.8,362.9 L578.5,362.6 L578.2,362.4 L577.9,362.2 L577.6,362.1 L577.2,362.0 L576.8,362.1 L576.3,362.3 L575.6,362.9 L575.0,363.4 L574.4,363.6 L574.0,363.7 L573.7,363.6 L573.3,363.4 L573.0,363.2 L572.7,363.0 L572.5,362.6 L572.4,362.1 L572.5,361.2 L572.6,360.4 L572.5,359.9 L572.4,359.5 L572.1,359.3 L571.9,359.1 L571.6,358.9 L571.3,358.8 L570.9,358.8 L570.4,359.0 L569.7,359.5 L569.0,359.9 L568.5,360.1 L568.1,360.1 L567.8,360.0 L567.5,359.8 L567.2,359.6 L567.0,359.3 L566.9,358.9 L567.0,358.4 L567.2,357.6 L567.5,356.8 L567.6,356.3 L567.5,356.0 L567.3,355.7 L567.2,355.5 L566.9,355.4 L566.7,355.2 L566.4,355.2 L565.8,355.3 L565.1,355.6 L564.4,355.9 L563.8,356.0 L563.5,355.9 L563.2,355.8 L563.0,355.6 L562.8,355.3 L562.7,355.1 L562.7,354.7 L562.9,354.2 L563.4,353.5 L563.8,352.9 L564.1,352.4 L564.1,352.1 L564.0,351.9 L563.9,351.6 L563.8,351.5 L563.6,351.3 L563.3,351.2 L562.8,351.2 L562.0,351.3 L561.2,351.4 L560.7,351.4 L560.4,351.2 L560.2,351.0 L560.1,350.8 L560.0,350.5 L560.0,350.2 L560.1,349.9 L560.4,349.5 L561.1,349.0 L561.7,348.6 L562.1,348.3 L562.3,348.0 L562.3,347.8 L562.3,347.6 L562.2,347.4 L562.1,347.2 L561.9,347.0 L561.4,346.8 L560.6,346.7 L559.8,346.5 L559.4,346.3 L559.1,346.0 L559.1,345.8 L559.0,345.5 L559.1,345.2 L559.1,345.0 L559.4,344.7 L559.8,344.5 L560.6,344.3 L561.4,344.2 L561.9,344.0 L562.1,343.8 L562.2,343.6 L562.3,343.4 L562.3,343.2 L562.3,343.0 L562.1,342.7 L561.7,342.4 L561.1,342.0 L560.4,341.5 L560.1,341.1 L560.0,340.8 L560.0,340.5 L560.1,340.2 L560.2,340.0 L560.4,339.8 L560.7,339.6 L561.2,339.6 L562.0,339.7 L562.8,339.8 L563.3,339.8 L563.6,339.7 L563.8,339.5 L563.9,339.4 L564.0,339.1 L564.1,338.9 L564.1,338.6 L563.8,338.1 L563.4,337.5 L562.9,336.8 L562.7,336.3 L562.7,335.9 L562.8,335.7 L563.0,335.4 L563.2,335.2 L563.5,335.1 L563.8,335.0 L564.4,335.1 L565.1,335.4 L565.8,335.7 L566.4,335.8 L566.7,335.8 L566.9,335.6 L567.2,335.5 L567.3,335.3 L567.5,335.0 L567.6,334.7 L567.5,334.2 L567.2,333.4 L567.0,332.6 L566.9,332.1 L567.0,331.7 L567.2,331.4 L567.5,331.2 L567.8,331.0 L568.1,330.9 L568.5,330.9 L569.0,331.1 L569.7,331.5 L570.4,332.0 L570.9,332.2 L571.3,332.2 L571.6,332.1 L571.9,331.9 L572.1,331.7 L572.4,331.5 L572.5,331.1 L572.6,330.6 L572.5,329.8 L572.4,328.9 L572.5,328.4 L572.7,328.0 L573.0,327.8 L573.3,327.6 L573.7,327.4 L574.0,327.3 L574.4,327.4 L575.0,327.6 L575.6,328.1 L576.3,328.7 L576.8,328.9 L577.2,329.0 L577.6,328.9 L577.9,328.8 L578.2,328.6 L578.5,328.4 L578.8,328.1 L579.0,327.5 L579.0,326.6 L579.1,325.8 L579.3,325.2 L579.6,324.9 L580.0,324.7 L580.3,324.5 L580.7,324.4 L581.1,324.3 L581.6,324.4 L582.1,324.7 L582.7,325.3 L583.3,325.9 L583.9,326.2 L584.3,326.3 L584.7,326.2 L585.1,326.1 L585.5,326.0 L585.9,325.8 L586.2,325.5 L586.5,324.9 L586.7,324.1 L586.9,323.3 L587.1,322.7 L587.5,322.4 L587.9,322.2 L588.3,322.1 L588.8,322.0 L589.2,322.0 L589.7,322.1 L590.2,322.4 L590.8,323.0 L591.4,323.7 L591.9,324.0 L592.4,324.2 L592.8,324.1 L593.2,324.1 L593.7,324.0 L594.1,323.8 L594.5,323.5 L594.8,323.0 L595.1,322.2 L595.4,321.3 L595.8,320.8 L596.2,320.5 L596.7,320.4 L597.1,320.3 L597.6,320.2 L598.0,320.2 L598.5,320.4 L599.0,320.8 L599.6,321.5 L600.2,322.1 L600.7,322.5 L601.1,322.7 L601.6,322.7 L602.1,322.7 L602.5,322.6 L603.0,322.5 L603.4,322.2 L603.8,321.7 L604.2,320.9 L604.6,320.1 L605.0,319.6 L605.5,319.4 L605.9,319.3 L606.4,319.2 L606.9,319.2 L607.4,319.2 L607.9,319.4 L608.4,319.8 L608.9,320.6 L609.4,321.3 L609.9,321.7 L610.4,321.9 L610.8,322.0 L611.3,322.0 L611.8,321.9 L612.2,321.8 L612.7,321.6 L613.2,321.1 L613.6,320.4 L614.1,319.6 L614.6,319.1 L615.0,318.9 L615.5,318.9 L616.0,318.8 L616.5,318.9 L617.0,318.9 L617.4,319.1 L617.9,319.6 L618.4,320.4 L618.8,321.1 L619.3,321.6 L619.8,321.8 L620.2,321.9 L620.7,322.0 L621.2,322.0 L621.6,321.9 L622.1,321.7 L622.6,321.3 L623.1,320.6 L623.6,319.8 L624.1,319.4 L624.6,319.2 L625.1,319.2 L625.6,319.2 L626.1,319.3 L626.5,319.4 L627.0,319.6 L627.4,320.1 L627.8,320.9 L628.2,321.7 L628.6,322.2 L629.0,322.5 L629.5,322.6 L629.9,322.7 L630.4,322.7 L630.9,322.7 L631.3,322.5 L631.8,322.1 L632.4,321.5 L633.0,320.8 L633.5,320.4 L634.0,320.2 L634.4,320.2 L634.9,320.3 L635.3,320.4 L635.8,320.5 L636.2,320.8 L636.6,321.3 L636.9,322.2 L637.2,323.0 L637.5,323.5 L637.9,323.8 L638.3,324.0 L638.8,324.1 L639.2,324.1 L639.6,324.2 L640.1,324.0 L640.6,323.7 L641.2,323.0 L641.8,322.4 L642.3,322.1 L642.8,322.0 L643.2,322.0 L643.7,322.1 L644.1,322.2 L644.5,322.4 L644.9,322.7 L645.1,323.3 L645.3,324.1 L645.5,324.9 L645.8,325.5 L646.1,325.8 L646.5,326.0 L646.9,326.1 L647.3,326.2 L647.7,326.3 L648.1,326.2 L648.7,325.9 L649.3,325.3 L649.9,324.7 L650.4,324.4 L650.9,324.3 L651.3,324.4 L651.7,324.5 L652.0,324.7 L652.4,324.9 L652.7,325.2 L652.9,325.8 L653.0,326.6 L653.0,327.5 L653.2,328.1 L653.5,328.4 L653.8,328.6 L654.1,328.8 L654.4,328.9 L654.8,329.0 L655.2,328.9 L655.7,328.7 L656.4,328.1 L657.0,327.6 L657.6,327.4 L658.0,327.3 L658.3,327.4 L658.7,327.6 L659.0,327.8 L659.3,328.0 L659.5,328.4 L659.6,328.9 L659.5,329.8 L659.4,330.6 L659.5,331.1 L659.6,331.5 L659.9,331.7 L660.1,331.9 L660.4,332.1 L660.7,332.2 L661.1,332.2 L661.6,332.0 L662.3,331.5 L663.0,331.1 L663.5,330.9 L663.9,330.9 L664.2,331.0 L664.5,331.2 L664.8,331.4 L665.0,331.7 L665.1,332.1 L665.0,332.6 L664.8,333.4 L664.5,334.2 L664.4,334.7 L664.5,335.0 L664.7,335.3 L664.8,335.5 L665.1,335.6 L665.3,335.8 L665.6,335.8 L666.2,335.7 L666.9,335.4 L667.6,335.1 L668.2,335.0 L668.5,335.1 L668.8,335.2 L669.0,335.4 L669.2,335.7 L669.3,335.9 L669.3,336.3 L669.1,336.8 L668.6,337.5 L668.2,338.1 L667.9,338.6 L667.9,338.9 L668.0,339.1 L668.1,339.4 L668.2,339.5 L668.4,339.7 L668.7,339.8 L669.2,339.8 L670.0,339.7 L670.8,339.6 L671.3,339.6 L671.6,339.8 L671.8,340.0 L671.9,340.2 L672.0,340.5 L672.0,340.8 L671.9,341.1 L671.6,341.5 L670.9,342.0 L670.3,342.4 L669.9,342.7 L669.7,343.0 L669.7,343.2 L669.7,343.4 L669.8,343.6 L669.9,343.8 L670.1,344.0 L670.6,344.2 L671.4,344.3 L672.2,344.5 L672.6,344.7 L672.9,345.0 L672.9,345.2 L673.0,345.5Z" fill="#fff" stroke="#1c1c1c" stroke-width="1.8" stroke-linecap="round" stroke-linejoin="round" />
<path d="M668.7,363.5 L668.7,350.0 Q669.6,348.0 670.5,350.0 L670.5,363.5" fill="none" stroke="#1c1c1c" stroke-width="1.35" stroke-linecap="round" stroke-linejoin="round" />
<path d="M667.1,368.5 L667.1,354.1 Q668.0,352.1 668.9,354.1 L668.9,368.5" fill="none" stroke="#1c1c1c" stroke-width="1.35" stroke-linecap="round" stroke-linejoin="round" />
<path d="M663.5,373.3 L663.5,357.9 Q664.8,355.9 666.0,357.9 L666.0,373.3" fill="none" stroke="#1c1c1c" stroke-width="1.35" stroke-linecap="round" stroke-linejoin="round" />
<path d="M658.3,377.6 L658.3,361.5 Q660.1,359.5 661.8,361.5 L661.8,377.6" fill="none" stroke="#1c1c1c" stroke-width="1.35" stroke-linecap="round" stroke-linejoin="round" />
<path d="M651.9,381.5 L651.9,364.6 Q654.0,362.6 656.2,364.6 L656.2,381.5" fill="none" stroke="#1c1c1c" stroke-width="1.35" stroke-linecap="round" stroke-linejoin="round" />
<path d="M644.4,384.8 L644.4,367.3 Q646.9,365.3 649.3,367.3 L649.3,384.8" fill="none" stroke="#1c1c1c" stroke-width="1.35" stroke-linecap="round" stroke-linejoin="round" />
<path d="M636.0,387.3 L636.0,369.3 Q638.7,367.3 641.5,369.3 L641.5,387.3" fill="none" stroke="#1c1c1c" stroke-width="1.35" stroke-linecap="round" stroke-linejoin="round" />
<path d="M627.0,389.0 L627.0,370.7 Q629.9,368.7 632.8,370.7 L632.8,389.0" fill="none" stroke="#1c1c1c" stroke-width="1.35" stroke-linecap="round" stroke-linejoin="round" />
<path d="M617.7,389.9 L617.7,371.4 Q620.7,369.4 623.7,371.4 L623.7,389.9" fill="none" stroke="#1c1c1c" stroke-width="1.35" stroke-linecap="round" stroke-linejoin="round" />
<path d="M608.3,389.9 L608.3,371.4 Q611.3,369.4 614.3,371.4 L614.3,389.9" fill="none" stroke="#1c1c1c" stroke-width="1.35" stroke-linecap="round" stroke-linejoin="round" />
<path d="M599.2,389.0 L599.2,370.7 Q602.1,368.7 605.0,370.7 L605.0,389.0" fill="none" stroke="#1c1c1c" stroke-width="1.35" stroke-linecap="round" stroke-linejoin="round" />
<path d="M590.5,387.3 L590.5,369.3 Q593.3,367.3 596.0,369.3 L596.0,387.3" fill="none" stroke="#1c1c1c" stroke-width="1.35" stroke-linecap="round" stroke-linejoin="round" />
<path d="M582.7,384.8 L582.7,367.3 Q585.1,365.3 587.6,367.3 L587.6,384.8" fill="none" stroke="#1c1c1c" stroke-width="1.35" stroke-linecap="round" stroke-linejoin="round" />
<path d="M575.8,381.5 L575.8,364.6 Q578.0,362.6 580.1,364.6 L580.1,381.5" fill="none" stroke="#1c1c1c" stroke-width="1.35" stroke-linecap="round" stroke-linejoin="round" />
<path d="M570.2,377.6 L570.2,361.5 Q571.9,359.5 573.7,361.5 L573.7,377.6" fill="none" stroke="#1c1c1c" stroke-width="1.35" stroke-linecap="round" stroke-linejoin="round" />
<path d="M566.0,373.3 L566.0,357.9 Q567.2,355.9 568.5,357.9 L568.5,373.3" fill="none" stroke="#1c1c1c" stroke-width="1.35" stroke-linecap="round" stroke-linejoin="round" />
<path d="M563.1,368.5 L563.1,354.1 Q564.0,352.1 564.9,354.1 L564.9,368.5" fill="none" stroke="#1c1c1c" stroke-width="1.35" stroke-linecap="round" stroke-linejoin="round" />
<path d="M561.5,363.5 L561.5,350.0 Q562.4,348.0 563.3,350.0 L563.3,363.5" fill="none" stroke="#1c1c1c" stroke-width="1.35" stroke-linecap="round" stroke-linejoin="round" />
<ellipse cx="615.7" cy="345" rx="45" ry="21" fill="none" stroke="#1c1c1c" stroke-width="1.2" />
<ellipse cx="615.7" cy="347" rx="41" ry="18" fill="none" stroke="#1c1c1c" stroke-width="1.1" />
<ellipse cx="595" cy="339.5" rx="2.8" ry="1.4" fill="none" stroke="#1c1c1c" stroke-width="1" />
<ellipse cx="637" cy="363" rx="2.8" ry="1.4" fill="none" stroke="#1c1c1c" stroke-width="1" />
<path d="M599.7,341.7 L614.4,335.4 L629.8,336.8 L635.4,348.7 L624.2,354.3 L604.6,352.5 Z" fill="#fff" stroke="#1c1c1c" stroke-width="1.5" stroke-linecap="round" stroke-linejoin="round" />
<path d="M599.7,341.7 L597.6,350.8 L603.2,360.6 L624.9,362 L637.5,354.3 L635.4,348.7 M604.6,352.5 L603.2,360.6 M624.2,354.3 L624.9,362" fill="none" stroke="#1c1c1c" stroke-width="1.4" stroke-linecap="round" stroke-linejoin="round" />
<ellipse cx="616.5" cy="344.5" rx="9" ry="4.2" fill="none" stroke="#1c1c1c" stroke-width="1.4" />
<line x1="616.6" y1="318" x2="616.6" y2="345" stroke="#8c8c8c" stroke-width="1.3" />
<line x1="672.4" y1="359" x2="704.8" y2="345.4" stroke="#1c1c1c" stroke-width="1" />
<text x="706" y="347" font-family="Liberation Sans" font-size="14" fill="#111" stroke="#111" stroke-width="0.3">6</text>
<line x1="616.4" y1="400" x2="616.4" y2="440" stroke="#8c8c8c" stroke-width="1.3" />
<path d="M670,406.5 C674,406 676.5,409 676.5,412.5 C676.5,416 674,419 670,418.5 C667,417 667,408 670,406.5 Z" fill="#fff" stroke="#1c1c1c" stroke-width="1.7" stroke-linecap="round" stroke-linejoin="round" />
<path d="M670,407 C668.3,409 668.3,416 670,418" fill="none" stroke="#1c1c1c" stroke-width="2.2" stroke-linecap="round" stroke-linejoin="round" />
<line x1="676.4" y1="412.9" x2="709" y2="412.9" stroke="#1c1c1c" stroke-width="1" />
<text x="712" y="419" font-family="Liberation Sans" font-size="14" fill="#111" stroke="#111" stroke-width="0.3">7</text>
<line x1="666" y1="418" x2="628.4" y2="442.8" stroke="#1c1c1c" stroke-width="1" />
<path d="M609,440.8 L609,454.8 L609.0,454.8 L609.1,455.3 L609.3,455.8 L609.6,456.3 L610.1,456.8 L610.7,457.2 L611.3,457.6 L612.1,458.0 L613.0,458.3 L613.9,458.5 L614.9,458.7 L616.0,458.8 L617.0,458.8 L618.0,458.8 L619.1,458.7 L620.1,458.5 L621.0,458.3 L621.9,458.0 L622.7,457.6 L623.3,457.2 L623.9,456.8 L624.4,456.3 L624.7,455.8 L624.9,455.3 L625.0,454.8 L625,440.8 L625.0,440.8 L624.9,440.3 L624.7,439.8 L624.4,439.3 L623.9,438.8 L623.3,438.4 L622.7,438.0 L621.9,437.6 L621.0,437.3 L620.1,437.1 L619.1,436.9 L618.0,436.8 L617.0,436.8 L616.0,436.8 L614.9,436.9 L613.9,437.1 L613.0,437.3 L612.1,437.6 L611.3,438.0 L610.7,438.4 L610.1,438.8 L609.6,439.3 L609.3,439.8 L609.1,440.3 L609.0,440.8Z" fill="#fff" stroke="#1c1c1c" stroke-width="1.5" stroke-linecap="round" stroke-linejoin="round" />
<ellipse cx="617" cy="440.8" rx="8" ry="4" fill="none" stroke="#1c1c1c" stroke-width="1.5" />
<ellipse cx="616.8" cy="440.8" rx="4.2" ry="2" fill="none" stroke="#1c1c1c" stroke-width="1.1" />
<path d="M605.0,459.5 L605.0,481.0 L605.0,481.0 L605.1,481.6 L605.4,482.2 L605.9,482.8 L606.6,483.3 L607.4,483.8 L608.4,484.3 L609.5,484.6 L610.8,485.0 L612.2,485.2 L613.6,485.4 L615.1,485.6 L616.6,485.6 L618.1,485.6 L619.6,485.4 L621.0,485.2 L622.4,485.0 L623.7,484.6 L624.8,484.3 L625.8,483.8 L626.6,483.3 L627.3,482.8 L627.8,482.2 L628.1,481.6 L628.2,481.0 L628.2,459.5 L628.2,459.5 L628.1,458.9 L627.8,458.3 L627.3,457.7 L626.6,457.2 L625.8,456.7 L624.8,456.2 L623.7,455.9 L622.4,455.5 L621.0,455.3 L619.6,455.1 L618.1,454.9 L616.6,454.9 L615.1,454.9 L613.6,455.1 L612.2,455.3 L610.8,455.5 L609.5,455.9 L608.4,456.2 L607.4,456.7 L606.6,457.2 L605.9,457.7 L605.4,458.3 L605.1,458.9 L605.0,459.5Z" fill="#fff" stroke="#1c1c1c" stroke-width="1.6" stroke-linecap="round" stroke-linejoin="round" />
<ellipse cx="616.6" cy="459.5" rx="11.6" ry="4.6" fill="none" stroke="#1c1c1c" stroke-width="1.6" />
<path d="M625.0,455.2 L624.9,455.6 L624.7,456.0 L624.4,456.4 L623.9,456.8 L623.3,457.1 L622.7,457.5 L621.9,457.7 L621.0,458.0 L620.1,458.2 L619.1,458.3 L618.0,458.4 L617.0,458.4 L616.0,458.4 L614.9,458.3 L613.9,458.2 L613.0,458.0 L612.1,457.7 L611.3,457.5 L610.7,457.1 L610.1,456.8 L609.6,456.4 L609.3,456.0 L609.1,455.6 L609.0,455.2" fill="none" stroke="#1c1c1c" stroke-width="1.2" stroke-linecap="round" stroke-linejoin="round" />
<path d="M597.8,484 L597.8,488.5 L597.8,488.5 L598.0,489.5 L598.4,490.4 L599.2,491.4 L600.2,492.2 L601.5,493.1 L603.1,493.8 L604.8,494.5 L606.8,495.0 L608.9,495.4 L611.1,495.7 L613.5,495.9 L615.8,496.0 L618.1,495.9 L620.5,495.7 L622.7,495.4 L624.8,495.0 L626.8,494.5 L628.5,493.8 L630.1,493.1 L631.4,492.2 L632.4,491.4 L633.2,490.4 L633.6,489.5 L633.8,488.5 L633.8,484 L633.8,484.0 L633.6,483.0 L633.2,482.1 L632.4,481.1 L631.4,480.2 L630.1,479.4 L628.5,478.7 L626.8,478.0 L624.8,477.5 L622.7,477.1 L620.5,476.8 L618.1,476.6 L615.8,476.5 L613.5,476.6 L611.1,476.8 L608.9,477.1 L606.8,477.5 L604.8,478.0 L603.1,478.7 L601.5,479.4 L600.2,480.2 L599.2,481.1 L598.4,482.1 L598.0,483.0 L597.8,484.0Z" fill="#fff" stroke="#1c1c1c" stroke-width="1.6" stroke-linecap="round" stroke-linejoin="round" />
<ellipse cx="615.8" cy="484" rx="18" ry="7.5" fill="none" stroke="#1c1c1c" stroke-width="1.6" />
<path d="M628.2,482.5 L628.1,483.0 L627.8,483.6 L627.3,484.1 L626.6,484.6 L625.8,485.1 L624.8,485.5 L623.7,485.8 L622.4,486.1 L621.0,486.4 L619.6,486.6 L618.1,486.7 L616.6,486.7 L615.1,486.7 L613.6,486.6 L612.2,486.4 L610.8,486.1 L609.5,485.8 L608.4,485.5 L607.4,485.1 L606.6,484.6 L605.9,484.1 L605.4,483.6 L605.1,483.0 L605.0,482.5" fill="none" stroke="#1c1c1c" stroke-width="1.5" stroke-linecap="round" stroke-linejoin="round" />
<path d="M628.2,486.5 L628.1,487.0 L627.8,487.6 L627.3,488.1 L626.6,488.6 L625.8,489.1 L624.8,489.5 L623.7,489.8 L622.4,490.1 L621.0,490.4 L619.6,490.6 L618.1,490.7 L616.6,490.7 L615.1,490.7 L613.6,490.6 L612.2,490.4 L610.8,490.1 L609.5,489.8 L608.4,489.5 L607.4,489.1 L606.6,488.6 L605.9,488.1 L605.4,487.6 L605.1,487.0 L605.0,486.5" fill="none" stroke="#1c1c1c" stroke-width="1.2" stroke-linecap="round" stroke-linejoin="round" />
<line x1="605" y1="480" x2="605" y2="486.5" stroke="#1c1c1c" stroke-width="1.4" />
<line x1="628.2" y1="480" x2="628.2" y2="486.5" stroke="#1c1c1c" stroke-width="1.4" />
<path d="M606,495 C605,498.5 628,498.5 628,495 C628,492.5 606,492.5 606,495 Z" fill="#fff" stroke="#1c1c1c" stroke-width="1.3" stroke-linecap="round" stroke-linejoin="round" />
<path d="M606,499 C605,502.5 628,502.5 628,499 C628,496.5 606,496.5 606,499 Z" fill="#fff" stroke="#1c1c1c" stroke-width="1.3" stroke-linecap="round" stroke-linejoin="round" />
<path d="M606,503 C605,506.5 628,506.5 628,503 C628,500.5 606,500.5 606,503 Z" fill="#fff" stroke="#1c1c1c" stroke-width="1.3" stroke-linecap="round" stroke-linejoin="round" />
<path d="M606,507 C605,510.5 628,510.5 628,507 C628,504.5 606,504.5 606,507 Z" fill="#fff" stroke="#1c1c1c" stroke-width="1.3" stroke-linecap="round" stroke-linejoin="round" />
<path d="M601.0,509 L601.0,522 L601.0,522.0 L601.1,522.7 L601.6,523.4 L602.3,524.1 L603.2,524.8 L604.4,525.3 L605.8,525.9 L607.5,526.4 L609.2,526.8 L611.2,527.1 L613.2,527.3 L615.3,527.5 L617.5,527.5 L619.7,527.5 L621.8,527.3 L623.8,527.1 L625.8,526.8 L627.5,526.4 L629.2,525.9 L630.6,525.3 L631.8,524.8 L632.7,524.1 L633.4,523.4 L633.9,522.7 L634.0,522.0 L634.0,509 L634.0,509.0 L633.9,508.3 L633.4,507.6 L632.7,506.9 L631.8,506.2 L630.6,505.7 L629.2,505.1 L627.5,504.6 L625.8,504.2 L623.8,503.9 L621.8,503.7 L619.7,503.5 L617.5,503.5 L615.3,503.5 L613.2,503.7 L611.2,503.9 L609.2,504.2 L607.5,504.6 L605.8,505.1 L604.4,505.7 L603.2,506.2 L602.3,506.9 L601.6,507.6 L601.1,508.3 L601.0,509.0Z" fill="#fff" stroke="#1c1c1c" stroke-width="1.6" stroke-linecap="round" stroke-linejoin="round" />
<ellipse cx="617.5" cy="509" rx="16.5" ry="5.5" fill="none" stroke="#1c1c1c" stroke-width="1.6" />
<path d="M597,527 C596,521 601,520 608,521.5 C616,523 622,526 631.7,527 L631.7,538 C631,546 598,546 597,538 Z" fill="#fff" stroke="#1c1c1c" stroke-width="1.6" stroke-linecap="round" stroke-linejoin="round" />
<path d="M599,523 C606,530 622,529 631,529" fill="none" stroke="#1c1c1c" stroke-width="1.3" stroke-linecap="round" stroke-linejoin="round" />
<path d="M593.2,571.5 L593.2,580.5 L593.2,580.5 L593.4,581.8 L594.0,583.1 L595.0,584.3 L596.3,585.5 L598.0,586.6 L600.1,587.6 L602.4,588.4 L604.9,589.2 L607.6,589.7 L610.5,590.2 L613.5,590.4 L616.6,590.5 L619.7,590.4 L622.7,590.2 L625.6,589.7 L628.3,589.2 L630.8,588.4 L633.1,587.6 L635.2,586.6 L636.9,585.5 L638.2,584.3 L639.2,583.1 L639.8,581.8 L640.0,580.5 L640.0,571.5 L640.0,571.5 L639.8,570.2 L639.2,568.9 L638.2,567.7 L636.9,566.5 L635.2,565.4 L633.1,564.4 L630.8,563.6 L628.3,562.8 L625.6,562.3 L622.7,561.8 L619.7,561.6 L616.6,561.5 L613.5,561.6 L610.5,561.8 L607.6,562.3 L604.9,562.8 L602.4,563.6 L600.1,564.4 L598.0,565.4 L596.3,566.5 L595.0,567.7 L594.0,568.9 L593.4,570.2 L593.2,571.5Z" fill="#fff" stroke="#1c1c1c" stroke-width="1.6" stroke-linecap="round" stroke-linejoin="round" />
<ellipse cx="616.6" cy="571.5" rx="23.4" ry="10" fill="none" stroke="#1c1c1c" stroke-width="1.6" />
<path d="M640.0,583.5 L639.8,584.8 L639.2,586.1 L638.2,587.3 L636.9,588.5 L635.2,589.6 L633.1,590.6 L630.8,591.4 L628.3,592.2 L625.6,592.7 L622.7,593.2 L619.7,593.4 L616.6,593.5 L613.5,593.4 L610.5,593.2 L607.6,592.7 L604.9,592.2 L602.4,591.4 L600.1,590.6 L598.0,589.6 L596.3,588.5 L595.0,587.3 L594.0,586.1 L593.4,584.8 L593.2,583.5" fill="none" stroke="#1c1c1c" stroke-width="1.5" stroke-linecap="round" stroke-linejoin="round" />
<line x1="593.2" y1="580.5" x2="593.2" y2="584" stroke="#1c1c1c" stroke-width="1.5" />
<line x1="640" y1="580.5" x2="640" y2="584" stroke="#1c1c1c" stroke-width="1.5" />
<ellipse cx="616.6" cy="567.5" rx="11.8" ry="5" fill="#fff" stroke="#1c1c1c" stroke-width="1.4" />
<path d="M604.8,544 L604.8,567 M628.4,544 L628.4,567" fill="none" stroke="#1c1c1c" stroke-width="1.4" stroke-linecap="round" stroke-linejoin="round" />
<path d="M605,567 C606,572 627,572 628.4,567" fill="none" stroke="#1c1c1c" stroke-width="1.3" stroke-linecap="round" stroke-linejoin="round" />
<path d="M604.8,546 L610,548 L621,560 L623,566.5 L617,567 L611,561 L606,559" fill="#fff" stroke="#1c1c1c" stroke-width="1.3" stroke-linecap="round" stroke-linejoin="round" />
<ellipse cx="611.4" cy="554.5" rx="1.4" ry="1.4" fill="none" stroke="#1c1c1c" stroke-width="0.9" />
<path d="M628.4,546 L633,550 L635,559.4 L628.4,560" fill="none" stroke="#1c1c1c" stroke-width="1.3" stroke-linecap="round" stroke-linejoin="round" />
<path d="M612,544.5 L612,552" fill="none" stroke="#1c1c1c" stroke-width="1.1" stroke-linecap="round" stroke-linejoin="round" />
<path d="M595.4,590 L595.4,603 M638.3,590 L638.3,604" fill="none" stroke="#1c1c1c" stroke-width="1.5" stroke-linecap="round" stroke-linejoin="round" />
<path d="M588,604 C598,598 605,600 615,604 C625,608 632,604 642,601" fill="none" stroke="#1c1c1c" stroke-width="1.4" stroke-linecap="round" stroke-linejoin="round" />
<path d="M430.8,540 L430.8,554.4 L294.4,630.9 L294.4,687.6" fill="none" stroke="#1c1c1c" stroke-width="1" stroke-linecap="round" stroke-linejoin="round" stroke-dasharray="40,3,3,3"/>
<path d="M348.5,634.5 C353,634 355,637 355,640.5 C355,644 353,647.5 348.5,647 C345.5,645 345.5,636 348.5,634.5 Z" fill="#fff" stroke="#1c1c1c" stroke-width="1.7" stroke-linecap="round" stroke-linejoin="round" />
<path d="M348.5,635 C346.8,637 346.8,644 348.5,646.5" fill="none" stroke="#1c1c1c" stroke-width="2.2" stroke-linecap="round" stroke-linejoin="round" />
<line x1="354.7" y1="640" x2="381.7" y2="640" stroke="#1c1c1c" stroke-width="1" />
<text x="384" y="645.5" font-family="Liberation Sans" font-size="14" fill="#111" stroke="#111" stroke-width="0.3">2</text>
<path d="M344.8,644 L327.7,652.5 L327.7,720" fill="none" stroke="#1c1c1c" stroke-width="1" stroke-linecap="round" stroke-linejoin="round" stroke-dasharray="20,3,3,3"/>
<ellipse cx="216.7" cy="706" rx="7" ry="4" fill="none" stroke="#1c1c1c" stroke-width="1.4"/>
<ellipse cx="216.7" cy="706" rx="3" ry="1.6" fill="none" stroke="#1c1c1c" stroke-width="1.1"/>
<path d="M209.5,709.5 C203,710 199,714 199.5,718.5 C200,722 204,725 208,726" fill="none" stroke="#1c1c1c" stroke-width="1.4" stroke-linecap="round" stroke-linejoin="round"/>
<path d="M209.5,706.5 L209.5,712 L214,719.5 L208,726" fill="none" stroke="#1c1c1c" stroke-width="1.4" stroke-linecap="round" stroke-linejoin="round"/>
<path d="M223.6,707 L240.4,717 L246.4,723 L248.8,736" fill="none" stroke="#1c1c1c" stroke-width="1.4" stroke-linecap="round" stroke-linejoin="round" stroke-dasharray="14,2.5,3,2.5"/>
<path d="M220,718.4 L242.8,728 L246,740 L247,752" fill="none" stroke="#1c1c1c" stroke-width="1.4" stroke-linecap="round" stroke-linejoin="round" stroke-dasharray="14,2.5,3,2.5"/>
<path d="M214,719.6 L237.4,731.6 L242.2,747.2 L242.8,762.8" fill="none" stroke="#1c1c1c" stroke-width="1.4" stroke-linecap="round" stroke-linejoin="round"/>
<path d="M224,712 L223,717" fill="none" stroke="#1c1c1c" stroke-width="1.4" stroke-linecap="round" stroke-linejoin="round"/>
<ellipse cx="210.4" cy="722" rx="1.5" ry="1.2" fill="none" stroke="#1c1c1c" stroke-width="1"/>
<path d="M221,732 L230,728.5 C234,728 235,738 231,740.5 L223,744 Z" fill="#fff" stroke="#1c1c1c" stroke-width="1.4" stroke-linecap="round" stroke-linejoin="round"/>
<ellipse cx="222.5" cy="738" rx="4.2" ry="5.3" fill="none" stroke="#1c1c1c" stroke-width="1.4" transform="rotate(-20 222.5 738)"/>
<ellipse cx="222.5" cy="738" rx="1.8" ry="2.3" fill="none" stroke="#1c1c1c" stroke-width="1.0" transform="rotate(-20 222.5 738)"/>
<path d="M233,742 L239,752 L241.6,761.6" fill="none" stroke="#1c1c1c" stroke-width="1.4" stroke-linecap="round" stroke-linejoin="round" stroke-dasharray="14,2.5,3,2.5"/>
<path d="M254.8,735.2 L274,725.6" fill="none" stroke="#1c1c1c" stroke-width="1.4" stroke-linecap="round" stroke-linejoin="round"/>
<path d="M254.8,735.2 L254.8,752" fill="none" stroke="#1c1c1c" stroke-width="1.4" stroke-linecap="round" stroke-linejoin="round"/>
<path d="M242.8,749.6 L254.8,742.4" fill="none" stroke="#1c1c1c" stroke-width="1.4" stroke-linecap="round" stroke-linejoin="round"/>
<path d="M242.8,760.4 L254.8,753.2 L269.2,747.2 L274,752" fill="none" stroke="#1c1c1c" stroke-width="1.4" stroke-linecap="round" stroke-linejoin="round"/>
<path d="M257,751 L269,747 M259.6,756.8 L274,752" fill="none" stroke="#1c1c1c" stroke-width="1.4" stroke-linecap="round" stroke-linejoin="round"/>
<path d="M242.8,761.6 L266.8,764 L274,772.4 L290,780" fill="none" stroke="#1c1c1c" stroke-width="1.4" stroke-linecap="round" stroke-linejoin="round"/>
<path d="M241.6,762 L241.6,780" fill="none" stroke="#1c1c1c" stroke-width="1.4" stroke-linecap="round" stroke-linejoin="round"/>
<path d="M289.6,690 L289.6,704 M299.8,690 L299.8,704" fill="none" stroke="#1c1c1c" stroke-width="1.4" stroke-linecap="round" stroke-linejoin="round"/>
<ellipse cx="294.7" cy="689.6" rx="5" ry="2.5" fill="#fff" stroke="#1c1c1c" stroke-width="1.4"/>
<ellipse cx="294.7" cy="689.8" rx="2" ry="1" fill="#222" stroke="#1c1c1c" stroke-width="1.4"/>
<path d="M289.8,693.5 C291,695.5 298,695.5 299.6,693.5" fill="none" stroke="#1c1c1c" stroke-width="1.1" stroke-linecap="round" stroke-linejoin="round"/>
<path d="M289.8,697 C291,699 298,699 299.6,697" fill="none" stroke="#1c1c1c" stroke-width="1.1" stroke-linecap="round" stroke-linejoin="round"/>
<path d="M289.8,700.5 C291,702.5 298,702.5 299.6,700.5" fill="none" stroke="#1c1c1c" stroke-width="1.1" stroke-linecap="round" stroke-linejoin="round"/>
<path d="M288.4,706 C289,703 300,703 302.8,706 L305.8,728 C303,732 287,732 284.8,728 Z" fill="#fff" stroke="#1c1c1c" stroke-width="1.4" stroke-linecap="round" stroke-linejoin="round"/>
<path d="M293,712 C297,711 297,721 293,720" fill="none" stroke="#1c1c1c" stroke-width="1.3" stroke-linecap="round" stroke-linejoin="round"/>
<path d="M283.6,729 C286,737 305,737 307,729" fill="none" stroke="#1c1c1c" stroke-width="1.4" stroke-linecap="round" stroke-linejoin="round"/>
<path d="M283,734 L283,746 C287,752 305,752 308.8,746 L308.8,734" fill="none" stroke="#1c1c1c" stroke-width="1.4" stroke-linecap="round" stroke-linejoin="round"/>
<path d="M283,746 C285,749 305,749 308.8,746" fill="none" stroke="#1c1c1c" stroke-width="1" stroke-linecap="round" stroke-linejoin="round"/>
<path d="M276,738 C279,735 281,734 283.8,733.5 M307.7,733.5 C313,735 317.6,739 317.6,743.4 C317.6,749 308,753.4 295.5,753.4 C283,753.4 273.4,749 273.4,743.4 C273.4,741 274.5,739.5 276,738" fill="none" stroke="#1c1c1c" stroke-width="1.4" stroke-linecap="round" stroke-linejoin="round"/>
<path d="M269.8,747 C273,753 283,756.5 296,756.5 C309,756.5 319,753 322.5,748" fill="none" stroke="#1c1c1c" stroke-width="1.4" stroke-linecap="round" stroke-linejoin="round"/>
<path d="M268,762.3 C280,760 300,758.5 313,758.7 L322,756" fill="none" stroke="#1c1c1c" stroke-width="1.3" stroke-linecap="round" stroke-linejoin="round"/>
<path d="M254.5,737 L276,726.3 M255.4,750.6 L270.7,747 M257,756 L275,753.3" fill="none" stroke="#1c1c1c" stroke-width="1.3" stroke-linecap="round" stroke-linejoin="round"/>
<path d="M268.5,733 C268,730 272,729.8 274.5,731.5 C276.5,733.5 276,737 273,738 C270,738.5 268.7,736 268.5,733 Z" fill="none" stroke="#1c1c1c" stroke-width="1.2" stroke-linecap="round" stroke-linejoin="round"/>
<path d="M276.4,715 L276.4,728 M284.8,715 L284.8,726" fill="none" stroke="#1c1c1c" stroke-width="1.4" stroke-linecap="round" stroke-linejoin="round"/>
<ellipse cx="280.6" cy="714.8" rx="4.2" ry="2.6" fill="#fff" stroke="#1c1c1c" stroke-width="1.4"/>
<ellipse cx="280.6" cy="714.8" rx="1.6" ry="1" fill="none" stroke="#1c1c1c" stroke-width="1"/>
<path d="M268,731 L276,728 L277,734 L269,737.5 Z" fill="none" stroke="#1c1c1c" stroke-width="1.2" stroke-linecap="round" stroke-linejoin="round"/>
<path d="M347.4,697 L347.4,713 M372,697 L372,704 C369,706 371,709 374,708 L374,713" fill="none" stroke="#1c1c1c" stroke-width="1.4" stroke-linecap="round" stroke-linejoin="round"/>
<ellipse cx="360" cy="695" rx="15.6" ry="6.3" fill="#fff" stroke="#1c1c1c" stroke-width="1.4"/>
<path d="M363,693.5 C357,692 355,698 360,698.5 C362,698.6 363,698 363.5,697.5" fill="none" stroke="#1c1c1c" stroke-width="1.3" stroke-linecap="round" stroke-linejoin="round"/>
<path d="M345.5,693 C343,694 343,697 346,697.5" fill="none" stroke="#1c1c1c" stroke-width="1.2" stroke-linecap="round" stroke-linejoin="round"/>
<path d="M381.4,688 L380.4,708 M391.4,688 L392.4,708" fill="none" stroke="#1c1c1c" stroke-width="1.4" stroke-linecap="round" stroke-linejoin="round"/>
<ellipse cx="386.4" cy="688" rx="5" ry="2.8" fill="#fff" stroke="#1c1c1c" stroke-width="1.4"/>
<ellipse cx="386.4" cy="688" rx="2.0" ry="1.1199999999999999" fill="none" stroke="#1c1c1c" stroke-width="1"/>
<path d="M386.3,682.3 L385.3,707.3 M397.3,682.3 L398.3,707.3" fill="none" stroke="#1c1c1c" stroke-width="1.4" stroke-linecap="round" stroke-linejoin="round"/>
<ellipse cx="391.8" cy="682.3" rx="5.5" ry="3" fill="#fff" stroke="#1c1c1c" stroke-width="1.4"/>
<ellipse cx="391.8" cy="682.3" rx="2.2" ry="1.2000000000000002" fill="none" stroke="#1c1c1c" stroke-width="1"/>
<path d="M404.3,697 L403.3,714 M415.3,697 L416.3,714" fill="none" stroke="#1c1c1c" stroke-width="1.4" stroke-linecap="round" stroke-linejoin="round"/>
<ellipse cx="409.8" cy="697" rx="5.5" ry="3" fill="#fff" stroke="#1c1c1c" stroke-width="1.4"/>
<ellipse cx="409.8" cy="697" rx="2.2" ry="1.2000000000000002" fill="none" stroke="#1c1c1c" stroke-width="1"/>
<path d="M400.2,669.4 L420,658" fill="none" stroke="#1c1c1c" stroke-width="1.4" stroke-linecap="round" stroke-linejoin="round"/>
<path d="M400.8,670 L409.8,672.4 L401.4,678.4 Z" fill="none" stroke="#1c1c1c" stroke-width="1.3" stroke-linecap="round" stroke-linejoin="round"/>
<path d="M399.6,689.2 L420,679.6" fill="none" stroke="#1c1c1c" stroke-width="1.4" stroke-linecap="round" stroke-linejoin="round"/>
<path d="M398.4,681 L420,672" fill="none" stroke="#1c1c1c" stroke-width="1.4" stroke-linecap="round" stroke-linejoin="round"/>
<path d="M409.8,644.8 L415,659" fill="none" stroke="#1c1c1c" stroke-width="1.4" stroke-linecap="round" stroke-linejoin="round" stroke-dasharray="6,2,2,2"/>
<path d="M324,719.2 L340.8,712 C345,707 348,705 352,705.4" fill="none" stroke="#1c1c1c" stroke-width="1.4" stroke-linecap="round" stroke-linejoin="round"/>
<path d="M330,722.8 L343.2,718 L352.8,710.8 L356,708" fill="none" stroke="#1c1c1c" stroke-width="1.4" stroke-linecap="round" stroke-linejoin="round"/>
<ellipse cx="342.6" cy="722.2" rx="4.5" ry="3" fill="#fff" stroke="#1c1c1c" stroke-width="1.4"/>
<ellipse cx="342.6" cy="722.2" rx="1.8" ry="1.2" fill="none" stroke="#1c1c1c" stroke-width="1"/>
<path d="M345.6,726.4 L374.4,712 L378,712 L381,708" fill="none" stroke="#1c1c1c" stroke-width="1.4" stroke-linecap="round" stroke-linejoin="round"/>
<path d="M346.8,716.8 L354,713" fill="none" stroke="#1c1c1c" stroke-width="1.4" stroke-linecap="round" stroke-linejoin="round"/>
<path d="M360,731.2 L386.4,718 L389,724" fill="none" stroke="#1c1c1c" stroke-width="1.4" stroke-linecap="round" stroke-linejoin="round"/>
<path d="M367.2,722.8 L390,711 L392,718" fill="none" stroke="#1c1c1c" stroke-width="1.4" stroke-linecap="round" stroke-linejoin="round"/>
<path d="M300,728.8 L306,719.2 L321.6,719.2" fill="none" stroke="#1c1c1c" stroke-width="1.4" stroke-linecap="round" stroke-linejoin="round"/>
<path d="M306,736 L320,730 L326,736 L340,730" fill="none" stroke="#1c1c1c" stroke-width="1.4" stroke-linecap="round" stroke-linejoin="round"/>
<path d="M380,707 L385,712 L396,706 L404,712 L416,706" fill="none" stroke="#1c1c1c" stroke-width="1.3" stroke-linecap="round" stroke-linejoin="round"/>
<ellipse cx="355" cy="737" rx="7" ry="4.5" fill="#fff" stroke="#1c1c1c" stroke-width="1.4"/>
<path d="M357,735.5 C353,734.5 351,738.5 356,739" fill="none" stroke="#1c1c1c" stroke-width="1.1" stroke-linecap="round" stroke-linejoin="round"/>
<path d="M411.2,637 L423.2,632.8 L429.2,637 L419.6,641.5 Z" fill="#fff" stroke="#1c1c1c" stroke-width="1.4" stroke-linecap="round" stroke-linejoin="round"/>
<ellipse cx="418.4" cy="638.2" rx="2" ry="1.3" fill="none" stroke="#1c1c1c" stroke-width="1.1"/>
<path d="M411.2,637 L411.2,645 L419.6,649 L429.8,645 L429.2,637 M419.6,641.5 L419.6,649" fill="none" stroke="#1c1c1c" stroke-width="1.4" stroke-linecap="round" stroke-linejoin="round"/>
<path d="M429.2,637 L448.4,643" fill="none" stroke="#1c1c1c" stroke-width="1.4" stroke-linecap="round" stroke-linejoin="round"/>
<path d="M448.4,643 L467.6,649.6 L503.6,669.4" fill="none" stroke="#1c1c1c" stroke-width="1.4" stroke-linecap="round" stroke-linejoin="round" stroke-dasharray="8,2.5"/>
<path d="M506,670.6 L506,685" fill="none" stroke="#1c1c1c" stroke-width="1.4" stroke-linecap="round" stroke-linejoin="round" stroke-dasharray="6,2.5"/>
<path d="M436.4,647.8 L486.8,675.4" fill="none" stroke="#1c1c1c" stroke-width="1.4" stroke-linecap="round" stroke-linejoin="round"/>
<path d="M433,650.2 L482,677.8" fill="none" stroke="#1c1c1c" stroke-width="1.4" stroke-linecap="round" stroke-linejoin="round" stroke-dasharray="10,2"/>
<path d="M455.6,661 L494,679" fill="none" stroke="#1c1c1c" stroke-width="1.4" stroke-linecap="round" stroke-linejoin="round"/>
<path d="M482,677.8 L496.4,677.8 L497.6,685 L486.8,687.4 Z" fill="#fff" stroke="#1c1c1c" stroke-width="1.4" stroke-linecap="round" stroke-linejoin="round"/>
<ellipse cx="488" cy="680.8" rx="2" ry="1.3" fill="none" stroke="#1c1c1c" stroke-width="1.1"/>
<path d="M486.8,687.4 L486.4,700 M497.6,685 L497.6,697" fill="none" stroke="#1c1c1c" stroke-width="1.4" stroke-linecap="round" stroke-linejoin="round"/>
<ellipse cx="440" cy="675.7" rx="15.6" ry="8" fill="#fff" stroke="#1c1c1c" stroke-width="1.4"/>
<ellipse cx="440" cy="673" rx="11" ry="5.5" fill="none" stroke="#1c1c1c" stroke-width="1.4"/>
<path d="M433.4,660 L433.4,673 C436,676 443,676 445.4,673 L445.4,660" fill="#fff" stroke="#1c1c1c" stroke-width="1.4" stroke-linecap="round" stroke-linejoin="round"/>
<ellipse cx="439.4" cy="659.8" rx="6" ry="3" fill="#fff" stroke="#1c1c1c" stroke-width="1.4"/>
<ellipse cx="439.4" cy="659.8" rx="2.3" ry="1.3" fill="none" stroke="#1c1c1c" stroke-width="1.1"/>
<path d="M424.4,678 C426,686 452,687 455.6,678" fill="none" stroke="#1c1c1c" stroke-width="1.2" stroke-linecap="round" stroke-linejoin="round"/>
<path d="M435.2,686.2 C442,689 449,693 449.6,697 L452,709" fill="none" stroke="#1c1c1c" stroke-width="1.4" stroke-linecap="round" stroke-linejoin="round"/>
<path d="M440,685 C448,688 453,690 453,694.6 L455.6,709" fill="none" stroke="#1c1c1c" stroke-width="1.4" stroke-linecap="round" stroke-linejoin="round"/>
<path d="M496,686 C500,685 503,688 503.2,692 C503.4,696 500,698 497,697.6" fill="none" stroke="#1c1c1c" stroke-width="1.3" stroke-linecap="round" stroke-linejoin="round"/>
<path d="M506.8,683.2 C515,684 522,690 522.4,698 L521.2,700.5" fill="none" stroke="#1c1c1c" stroke-width="1.4" stroke-linecap="round" stroke-linejoin="round" stroke-dasharray="5,2"/>
<path d="M506.2,685 L510,696 L516.4,700" fill="none" stroke="#1c1c1c" stroke-width="1.3" stroke-linecap="round" stroke-linejoin="round"/>
<path d="M499.6,708.4 L516.4,700" fill="none" stroke="#1c1c1c" stroke-width="1.3" stroke-linecap="round" stroke-linejoin="round"/>
<path d="M413.6,699.4 L441.2,688.6" fill="none" stroke="#1c1c1c" stroke-width="1.4" stroke-linecap="round" stroke-linejoin="round"/>
<path d="M413.6,709 L446,701.8" fill="none" stroke="#1c1c1c" stroke-width="1.4" stroke-linecap="round" stroke-linejoin="round"/>
<path d="M424.4,713.8 L465.2,707.8 L486,702" fill="none" stroke="#1c1c1c" stroke-width="1.4" stroke-linecap="round" stroke-linejoin="round"/>
<ellipse cx="467" cy="701.8" rx="4.2" ry="3.6" fill="#fff" stroke="#1c1c1c" stroke-width="1.4"/>
<path d="M466,703 L469,700.5" fill="none" stroke="#1c1c1c" stroke-width="1" stroke-linecap="round" stroke-linejoin="round"/>
<path d="M470,707 L475,700 L472,692 L478,688 L480,683 L486,687" fill="none" stroke="#1c1c1c" stroke-width="1.2" stroke-linecap="round" stroke-linejoin="round"/>
<path d="M258,770 C262,765 268,763 275,762.5 L318,761 C330,762 338,770 340,778 L338,790 C336,798 330,802 320,805 L297,809 L285,806 L262,796 C256,793 254.5,788 254.8,784 Z" fill="#fff" stroke="#1c1c1c" stroke-width="1.4" stroke-linecap="round" stroke-linejoin="round"/>
<ellipse cx="297" cy="786.4" rx="25.2" ry="10.5" fill="#fff" stroke="#1c1c1c" stroke-width="1.4"/>
<path d="M274,791 C278,780 290,776 300,776 C312,776 320,780 322,787" fill="none" stroke="#1c1c1c" stroke-width="1.3" stroke-linecap="round" stroke-linejoin="round"/>
<path d="M306,788 L316,783 L311,790 L322,789" fill="none" stroke="#1c1c1c" stroke-width="1.2" stroke-linecap="round" stroke-linejoin="round"/>
<path d="M283,764 C292,762.5 300,762.5 307.7,763.5" fill="none" stroke="#1c1c1c" stroke-width="1.2" stroke-linecap="round" stroke-linejoin="round" stroke-dasharray="6,2"/>
<path d="M285,770 C293,769 300,769 307,770" fill="none" stroke="#1c1c1c" stroke-width="1.2" stroke-linecap="round" stroke-linejoin="round"/>
<path d="M266.5,776 C266,773 268.5,771.3 270.5,771.8 C272,772.8 271.5,776 270,777.3 C268,778 266.8,777.5 266.5,776 Z" fill="none" stroke="#1c1c1c" stroke-width="1.2" stroke-linecap="round" stroke-linejoin="round"/>
<path d="M273,768.5 C273,766 275.5,765 277.5,765.5 C279,766.5 279,769 277,770.3 C275,771 273.2,770 273,768.5 Z" fill="none" stroke="#1c1c1c" stroke-width="1.2" stroke-linecap="round" stroke-linejoin="round"/>
<path d="M312,765.5 C310.5,767 311,769 313,770 L321.5,774 C324,775 325.5,773 324.8,771 C324,769.5 322,768.5 320,767.5 L314.5,765 C313.5,764.7 312.6,765 312,765.5 Z" fill="none" stroke="#1c1c1c" stroke-width="1.2" stroke-linecap="round" stroke-linejoin="round"/>
<ellipse cx="330.4" cy="779.2" rx="2" ry="1.2" fill="none" stroke="#1c1c1c" stroke-width="1"/>
<ellipse cx="262" cy="781.6" rx="6" ry="3" fill="#fff" stroke="#1c1c1c" stroke-width="1.4"/>
<ellipse cx="262" cy="781.6" rx="2.2" ry="1.2" fill="none" stroke="#1c1c1c" stroke-width="1"/>
<path d="M277.6,789 L277.6,799.6 M287.2,789 L287.2,799" fill="none" stroke="#1c1c1c" stroke-width="1.4" stroke-linecap="round" stroke-linejoin="round"/>
<ellipse cx="282.4" cy="788.8" rx="5" ry="2.6" fill="#fff" stroke="#1c1c1c" stroke-width="1.4"/>
<ellipse cx="282.4" cy="788.8" rx="1.8" ry="1" fill="none" stroke="#1c1c1c" stroke-width="1"/>
<path d="M278,801 L290,797.5 C294,797.5 295,800 295,803 L295,810 L284,814.5 C280,815 278,812 278,808 Z" fill="#fff" stroke="#1c1c1c" stroke-width="1.4" stroke-linecap="round" stroke-linejoin="round"/>
<ellipse cx="282" cy="807.2" rx="3.6" ry="4.4" fill="#fff" stroke="#1c1c1c" stroke-width="1.4"/>
<ellipse cx="282" cy="807.2" rx="1.3" ry="1.6" fill="none" stroke="#1c1c1c" stroke-width="1"/>
<path d="M295.6,808 L295.6,860" fill="none" stroke="#1c1c1c" stroke-width="1.4" stroke-linecap="round" stroke-linejoin="round"/>
<path d="M245.2,784 L245.2,852" fill="none" stroke="#1c1c1c" stroke-width="1.4" stroke-linecap="round" stroke-linejoin="round" stroke-dasharray="10,2.5"/>
<path d="M246,814 L253,812 C257,813 257,822 253,824 L246,825.5 C242,825 242,815 246,814 Z" fill="#fff" stroke="#1c1c1c" stroke-width="1.4" stroke-linecap="round" stroke-linejoin="round"/>
<path d="M249,813 L249.5,825 M246,819.5 L256,817.5" fill="none" stroke="#1c1c1c" stroke-width="1" stroke-linecap="round" stroke-linejoin="round"/>
<path d="M271,819 L290,812.5 C293,813 293,819 291,821 L273,829 Z" fill="#fff" stroke="#1c1c1c" stroke-width="1.4" stroke-linecap="round" stroke-linejoin="round"/>
<ellipse cx="272.6" cy="824.4" rx="3.5" ry="4.3" fill="#fff" stroke="#1c1c1c" stroke-width="1.4"/>
<ellipse cx="272.6" cy="824.4" rx="1.2" ry="1.5" fill="none" stroke="#1c1c1c" stroke-width="1"/>
<path d="M278,829 L285,827 C289,828 289,837 285,839 L278,840.5 C274,840 274,830 278,829 Z" fill="#fff" stroke="#1c1c1c" stroke-width="1.4" stroke-linecap="round" stroke-linejoin="round"/>
<path d="M281,828 L281.5,840 M278,834.5 L288,832.5" fill="none" stroke="#1c1c1c" stroke-width="1" stroke-linecap="round" stroke-linejoin="round"/>
<path d="M246.4,805.6 L270.4,821.2" fill="none" stroke="#1c1c1c" stroke-width="1.4" stroke-linecap="round" stroke-linejoin="round" stroke-dasharray="5,2"/>
<path d="M241,783 L256,778 C259,780 259,784 256,786 L243,790" fill="none" stroke="#1c1c1c" stroke-width="1.3" stroke-linecap="round" stroke-linejoin="round"/>
<path d="M244,761.2 L264.4,772" fill="none" stroke="#1c1c1c" stroke-width="1.3" stroke-linecap="round" stroke-linejoin="round"/>
<path d="M246,836 L236,840 C232,842 233,848 237,850 L246,851" fill="none" stroke="#1c1c1c" stroke-width="1.3" stroke-linecap="round" stroke-linejoin="round"/>
<path d="M238,842 L243,846" fill="none" stroke="#1c1c1c" stroke-width="1" stroke-linecap="round" stroke-linejoin="round"/>
<path d="M314,817 L334,822 L338,828 M314,820 L332,825.5" fill="none" stroke="#1c1c1c" stroke-width="1.3" stroke-linecap="round" stroke-linejoin="round"/>
<path d="M306,826 L316,828 L312,834 L316,840 L310,846 L312,860" fill="none" stroke="#1c1c1c" stroke-width="1.3" stroke-linecap="round" stroke-linejoin="round"/>
<path d="M300,826 L318,826" fill="none" stroke="#1c1c1c" stroke-width="1.3" stroke-linecap="round" stroke-linejoin="round"/>
<path d="M296,808 L320,806 L340,804" fill="none" stroke="#1c1c1c" stroke-width="1.3" stroke-linecap="round" stroke-linejoin="round"/>
<path d="M330,800 L336,790 L340,800" fill="none" stroke="#1c1c1c" stroke-width="1.2" stroke-linecap="round" stroke-linejoin="round"/>
<path d="M330,748.8 L388.8,721.2" fill="none" stroke="#1c1c1c" stroke-width="1.4" stroke-linecap="round" stroke-linejoin="round"/>
<path d="M330,762 L386.4,750" fill="none" stroke="#1c1c1c" stroke-width="1.4" stroke-linecap="round" stroke-linejoin="round"/>
<path d="M351.6,768 L387,752" fill="none" stroke="#1c1c1c" stroke-width="1.4" stroke-linecap="round" stroke-linejoin="round"/>
<path d="M330,775 L350,768" fill="none" stroke="#1c1c1c" stroke-width="1.4" stroke-linecap="round" stroke-linejoin="round" stroke-dasharray="5,2"/>
<path d="M342,813.6 L388.8,794.4 C390,796 390,799 388.8,800.4 L354,818" fill="none" stroke="#1c1c1c" stroke-width="1.4" stroke-linecap="round" stroke-linejoin="round"/>
<path d="M387.6,753.6 L387.6,820" fill="none" stroke="#1c1c1c" stroke-width="1.4" stroke-linecap="round" stroke-linejoin="round"/>
<path d="M388.8,720 L388.8,729.6" fill="none" stroke="#1c1c1c" stroke-width="1.4" stroke-linecap="round" stroke-linejoin="round"/>
<path d="M337.5,736 C337,731 341,730 345,731 M337.5,736 C337,741 341,743 346.8,742.5" fill="none" stroke="#1c1c1c" stroke-width="1.3" stroke-linecap="round" stroke-linejoin="round"/>
<path d="M346.8,738 L346.8,744 M363.6,737 L363.6,744" fill="none" stroke="#1c1c1c" stroke-width="1.3" stroke-linecap="round" stroke-linejoin="round"/>
<path d="M358,752 L366,745.5 C370,745 373,750 372,755 L364,760 Z" fill="#fff" stroke="#1c1c1c" stroke-width="1.4" stroke-linecap="round" stroke-linejoin="round"/>
<ellipse cx="366.3" cy="753" rx="4.5" ry="5.2" fill="#fff" stroke="#1c1c1c" stroke-width="1.4" transform="rotate(-15 366.3 753)"/>
<ellipse cx="366.3" cy="753" rx="1.7" ry="2" fill="none" stroke="#1c1c1c" stroke-width="1" transform="rotate(-15 366.3 753)"/>
<path d="M344,744 L344,752 L341,754 M348,744 L348,752 L351,754" fill="none" stroke="#1c1c1c" stroke-width="1.2" stroke-linecap="round" stroke-linejoin="round"/>
<ellipse cx="346" cy="744" rx="2" ry="1.2" fill="none" stroke="#1c1c1c" stroke-width="1"/>
<path d="M339.6,758 L339.6,771.6 M350.4,757 L350.4,770.5" fill="none" stroke="#1c1c1c" stroke-width="1.3" stroke-linecap="round" stroke-linejoin="round"/>
<ellipse cx="345" cy="756.5" rx="5.4" ry="2.8" fill="#fff" stroke="#1c1c1c" stroke-width="1.4"/>
<ellipse cx="345" cy="756.5" rx="1.8" ry="1" fill="none" stroke="#1c1c1c" stroke-width="1"/>
<path d="M336,759 L336,770" fill="none" stroke="#1c1c1c" stroke-width="1.4" stroke-linecap="round" stroke-linejoin="round" stroke-dasharray="4,2"/>
<path d="M352,780 C351,772 356,767 362,767 C368,767 371,772 370.8,778 C370,786 364,790 358,789.6" fill="none" stroke="#1c1c1c" stroke-width="1.4" stroke-linecap="round" stroke-linejoin="round"/>
<path d="M356,781 C355,775 359,771 363,771.5 C367,772 368,776 367.5,779" fill="none" stroke="#1c1c1c" stroke-width="1.3" stroke-linecap="round" stroke-linejoin="round"/>
<path d="M359,782 C358,778 361,775 364,775.5" fill="none" stroke="#1c1c1c" stroke-width="1.2" stroke-linecap="round" stroke-linejoin="round"/>
<path d="M366,785 L360,799 L349,801" fill="none" stroke="#1c1c1c" stroke-width="1.3" stroke-linecap="round" stroke-linejoin="round"/>
<path d="M339.6,798 L348,793 L357,797 L354,806 L345,812" fill="none" stroke="#1c1c1c" stroke-width="1.3" stroke-linecap="round" stroke-linejoin="round"/>
<ellipse cx="350.8" cy="808" rx="3" ry="3" fill="#fff" stroke="#1c1c1c" stroke-width="1.4"/>
<ellipse cx="350.8" cy="808" rx="1.1" ry="1.1" fill="none" stroke="#1c1c1c" stroke-width="1"/>
<path d="M330,786 L337,782 L338,770" fill="none" stroke="#1c1c1c" stroke-width="1.2" stroke-linecap="round" stroke-linejoin="round"/>
<path d="M332,779 C334,783 331,786 329,786" fill="none" stroke="#1c1c1c" stroke-width="1.2" stroke-linecap="round" stroke-linejoin="round"/>
<path d="M393,738 C391,733 394,729.4 399,729.4 C404,729.6 406.4,733 406,737 L404,742 L398,743" fill="#fff" stroke="#1c1c1c" stroke-width="1.4" stroke-linecap="round" stroke-linejoin="round"/>
<path d="M385,748 C384.5,743 388,741.4 392,741.6 C396,742 398.4,745 398.4,749 L397,755 L389,755.5 C386,754 385,751 385,748 Z" fill="#fff" stroke="#1c1c1c" stroke-width="1.4" stroke-linecap="round" stroke-linejoin="round"/>
<path d="M396,756.6 C398,745 404,731 414.4,721.4 C418,719 421,718.2 424.8,718.2" fill="none" stroke="#1c1c1c" stroke-width="1.4" stroke-linecap="round" stroke-linejoin="round"/>
<path d="M401.6,759.8 C404,748 410,735 420,725.4 C424,722 428,721.4 432,721.4 C434,722 433.5,725 431,726" fill="none" stroke="#1c1c1c" stroke-width="1.4" stroke-linecap="round" stroke-linejoin="round"/>
<path d="M408,750 L419.2,727 M412,752.6 L423.2,734.2 M417.6,755 L426,740" fill="none" stroke="#1c1c1c" stroke-width="1.3" stroke-linecap="round" stroke-linejoin="round"/>
<path d="M419.2,727 L424,724.8 L428.8,732 L424,735" fill="none" stroke="#1c1c1c" stroke-width="1.3" stroke-linecap="round" stroke-linejoin="round"/>
<path d="M424,741 C423.5,737 427,735 430,735 C434,735.5 436,738.5 435.5,741.5 C435,744.5 431,745.4 428,745 C426,744.5 424.2,743 424,741 Z" fill="#fff" stroke="#1c1c1c" stroke-width="1.4" stroke-linecap="round" stroke-linejoin="round"/>
<path d="M384.8,752.6 L409.6,763" fill="none" stroke="#1c1c1c" stroke-width="1.3" stroke-linecap="round" stroke-linejoin="round"/>
<path d="M409.8,754.5 L416.0,753.5 C419.0,754.5 419.0,765.5 416.0,766.5 L409.8,766.5 C406.8,765.5 406.8,754.5 409.8,754.5 Z" fill="#fff" stroke="#1c1c1c" stroke-width="1.3" stroke-linecap="round" stroke-linejoin="round"/>
<path d="M412.90000000000003,754.0 L412.90000000000003,766.0 M415.75600000000003,754.5 L415.75600000000003,766.0 M412.90000000000003,760.0 L418.0,759.45" fill="none" stroke="#1c1c1c" stroke-width="0.9" stroke-linecap="round" stroke-linejoin="round"/>
<path d="M408.8,755.5 C404.8,756.5 404.8,764.5 408.8,765.5" fill="none" stroke="#1c1c1c" stroke-width="1.0" stroke-linecap="round" stroke-linejoin="round" stroke-dasharray="2.5,1.5"/>
<ellipse cx="424.4" cy="758.6" rx="4.4" ry="6" fill="#fff" stroke="#1c1c1c" stroke-width="1.4"/>
<ellipse cx="424.4" cy="759" rx="2" ry="2.6" fill="none" stroke="#1c1c1c" stroke-width="1.1"/>
<path d="M438.4,728 L444,724.6 C449,724.6 450,734 447,736.6 L441,736.8 C437.6,735 437.6,729 438.4,728 Z" fill="#fff" stroke="#1c1c1c" stroke-width="1.4" stroke-linecap="round" stroke-linejoin="round"/>
<path d="M441.5,725.5 L441.5,736.5 M438.5,731 L444,730.5" fill="none" stroke="#1c1c1c" stroke-width="1" stroke-linecap="round" stroke-linejoin="round"/>
<path d="M447.2,736.6 L449.6,763" fill="none" stroke="#1c1c1c" stroke-width="1.4" stroke-linecap="round" stroke-linejoin="round" stroke-dasharray="6,2"/>
<path d="M448,749.4 L460,743" fill="none" stroke="#1c1c1c" stroke-width="1.3" stroke-linecap="round" stroke-linejoin="round"/>
<path d="M430,768 C432,762 437,758 442,757 M431,772 C433,767 438,763 442.8,762" fill="none" stroke="#1c1c1c" stroke-width="1.2" stroke-linecap="round" stroke-linejoin="round" stroke-dasharray="6,2"/>
<path d="M408.6,764.4 L408.6,820" fill="none" stroke="#1c1c1c" stroke-width="1.4" stroke-linecap="round" stroke-linejoin="round" stroke-dasharray="10,2.5"/>
<path d="M398.4,781 L406,777 L422,783 L426,790 L418,796.8 L404,791 L398.4,786 Z" fill="#fff" stroke="#1c1c1c" stroke-width="1.4" stroke-linecap="round" stroke-linejoin="round"/>
<path d="M406,777 L406,785 L418,791 L426,788 M418,791 L418,796.8" fill="none" stroke="#1c1c1c" stroke-width="1.2" stroke-linecap="round" stroke-linejoin="round"/>
<ellipse cx="420" cy="789.6" rx="1.6" ry="1.6" fill="none" stroke="#1c1c1c" stroke-width="1"/>
<path d="M416.4,799 L425,794 L439,800 L445.2,795 L445,806 L435,811.2 L420,806 Z" fill="#fff" stroke="#1c1c1c" stroke-width="1.4" stroke-linecap="round" stroke-linejoin="round"/>
<ellipse cx="433.2" cy="801.6" rx="1.8" ry="2" fill="none" stroke="#1c1c1c" stroke-width="1"/>
<ellipse cx="441.6" cy="797" rx="2.6" ry="3.4" fill="#fff" stroke="#1c1c1c" stroke-width="1.4"/>
<ellipse cx="441.6" cy="797" rx="1" ry="1.3" fill="none" stroke="#1c1c1c" stroke-width="1"/>
<path d="M420,806 L422,818 L431,820" fill="none" stroke="#1c1c1c" stroke-width="1.2" stroke-linecap="round" stroke-linejoin="round"/>
<path d="M447.6,735.6 L447.6,820" fill="none" stroke="#1c1c1c" stroke-width="1.4" stroke-linecap="round" stroke-linejoin="round" stroke-dasharray="12,2.5"/>
<path d="M486,700 C489,702 490.4,704 490.4,706 L491.5,728.5 C493,732 498,733 501.4,735 L503.6,738.4" fill="none" stroke="#1c1c1c" stroke-width="1.4" stroke-linecap="round" stroke-linejoin="round"/>
<path d="M492.6,697.7 C495,699 497,702 497,704.3 L498,726.3 C499,729 502,729.5 503.6,730.7 C505,732 504.7,734 504.7,736.2" fill="none" stroke="#1c1c1c" stroke-width="1.4" stroke-linecap="round" stroke-linejoin="round"/>
<path d="M486,738 C486,734 489,733.5 492,734.5 C495,736 495.5,741 494,743.5 C490,745 486,742 486,738 Z" fill="#fff" stroke="#1c1c1c" stroke-width="1.4" stroke-linecap="round" stroke-linejoin="round"/>
<path d="M491.5,744 L491.5,777 M497,742.8 L497,775.8" fill="none" stroke="#1c1c1c" stroke-width="1.4" stroke-linecap="round" stroke-linejoin="round"/>
<path d="M502,741.7 L502,767" fill="none" stroke="#1c1c1c" stroke-width="1.4" stroke-linecap="round" stroke-linejoin="round" stroke-dasharray="8,2"/>
<path d="M487,781 C487,777 491,775.5 495,776 C501,777 502.5,781 502,784 C499,787.5 488,787 487,781 Z" fill="#fff" stroke="#1c1c1c" stroke-width="1.4" stroke-linecap="round" stroke-linejoin="round"/>
<path d="M494,776 C498,778 499,782 497,786.5" fill="none" stroke="#1c1c1c" stroke-width="1" stroke-linecap="round" stroke-linejoin="round"/>
<path d="M491.5,787 L491.5,800 M497,787 L497,800 M501.4,785.7 L501.4,800" fill="none" stroke="#1c1c1c" stroke-width="1.3" stroke-linecap="round" stroke-linejoin="round"/>
<path d="M516.8,708.7 L516.8,800" fill="none" stroke="#1c1c1c" stroke-width="1.4" stroke-linecap="round" stroke-linejoin="round" stroke-dasharray="10,2.5,2,2.5"/>
<path d="M500.3,707.6 L514.6,700" fill="none" stroke="#1c1c1c" stroke-width="1.3" stroke-linecap="round" stroke-linejoin="round"/>
<path d="M500.3,707.6 L500.3,722 L507,720.8 L512.4,728.5 L504.7,737.3" fill="none" stroke="#1c1c1c" stroke-width="1.4" stroke-linecap="round" stroke-linejoin="round" stroke-dasharray="8,2"/>
<path d="M502,766 L510.2,763.7 L514.6,771.4 L514.6,776 L502.5,783.5" fill="none" stroke="#1c1c1c" stroke-width="1.4" stroke-linecap="round" stroke-linejoin="round" stroke-dasharray="8,2"/>
<path d="M516.8,700 L521.2,700.5 C522.5,703 522,707 519,708.7 L516.8,708.7" fill="none" stroke="#1c1c1c" stroke-width="1.3" stroke-linecap="round" stroke-linejoin="round"/>
<path d="M441,725 L446,724 C450,725 451,735 447,737 L441,737.5 C437,737 437,726 441,725 Z" fill="#fff" stroke="#1c1c1c" stroke-width="1.4" stroke-linecap="round" stroke-linejoin="round"/>
<path d="M440,730 L449,729" fill="none" stroke="#1c1c1c" stroke-width="1" stroke-linecap="round" stroke-linejoin="round"/>
<path d="M447,706 L466,709 C472,710 474,714 474,719 C474,724 470,726 466,727 L453,731" fill="none" stroke="#1c1c1c" stroke-width="1.3" stroke-linecap="round" stroke-linejoin="round"/>
<path d="M455,727 L490,713 M462,730 L490,720 M463,733 L490,722" fill="none" stroke="#1c1c1c" stroke-width="1.3" stroke-linecap="round" stroke-linejoin="round"/>
<path d="M448,740 L466,739 C471,740 473,746 472,751 C471,757 466,759 460,760 L450,762" fill="none" stroke="#1c1c1c" stroke-width="1.3" stroke-linecap="round" stroke-linejoin="round"/>
<path d="M449,748 L470,741" fill="none" stroke="#1c1c1c" stroke-width="1.2" stroke-linecap="round" stroke-linejoin="round"/>
<path d="M456,754 L468,754 L478,762 L479,766 L472,772" fill="none" stroke="#1c1c1c" stroke-width="1.3" stroke-linecap="round" stroke-linejoin="round"/>
<path d="M452,772 C452,762 457,756 464,756 C470,756 474,761 474,768 C474,776 468,780 461,780 C456,780 452,777 452,772 Z" fill="#fff" stroke="#1c1c1c" stroke-width="1.4" stroke-linecap="round" stroke-linejoin="round"/>
<ellipse cx="464" cy="769" rx="5" ry="7.8" fill="none" stroke="#1c1c1c" stroke-width="1.3"/>
<ellipse cx="465" cy="769" rx="3" ry="5.5" fill="none" stroke="#1c1c1c" stroke-width="1.1"/>
<ellipse cx="474.5" cy="765" rx="1.6" ry="1.6" fill="none" stroke="#1c1c1c" stroke-width="1"/>
<path d="M479,765 L490,757" fill="none" stroke="#1c1c1c" stroke-width="1.2" stroke-linecap="round" stroke-linejoin="round"/>
<path d="M448,737 L450,762" fill="none" stroke="#1c1c1c" stroke-width="1.4" stroke-linecap="round" stroke-linejoin="round" stroke-dasharray="6,2"/>
<path d="M450,775 L450,800" fill="none" stroke="#1c1c1c" stroke-width="1.4" stroke-linecap="round" stroke-linejoin="round" stroke-dasharray="8,2"/>
<path d="M430,760 L444,754 M430,770 L445,764" fill="none" stroke="#1c1c1c" stroke-width="1.3" stroke-linecap="round" stroke-linejoin="round"/>
<path d="M452,782 L470,786 L474,793 L468,800" fill="none" stroke="#1c1c1c" stroke-width="1.2" stroke-linecap="round" stroke-linejoin="round"/>
<path d="M432,790 C435,788 440,789 443,792 C446,795 444,800 440,800" fill="none" stroke="#1c1c1c" stroke-width="1.3" stroke-linecap="round" stroke-linejoin="round"/>
<path d="M238,856 C240,853 244,853 245.5,856 C247,860 246,863 243,864 C240,864 237,861 238,856 Z" fill="#fff" stroke="#1c1c1c" stroke-width="1.4" stroke-linecap="round" stroke-linejoin="round"/>
<ellipse cx="241.6" cy="858.6" rx="1.2" ry="1.4" fill="none" stroke="#1c1c1c" stroke-width="1"/>
<path d="M235,873 C237,870 241,870 243,873 C244.5,876 243.5,880 240,880.8 C236,880 234,876 235,873 Z" fill="#fff" stroke="#1c1c1c" stroke-width="1.4" stroke-linecap="round" stroke-linejoin="round"/>
<ellipse cx="239" cy="875.4" rx="1.2" ry="1.4" fill="none" stroke="#1c1c1c" stroke-width="1"/>
<path d="M248,859 L255,858 C258,859 258,870 255,871 L248,871 C245,870 245,859 248,859 Z" fill="#fff" stroke="#1c1c1c" stroke-width="1.3" stroke-linecap="round" stroke-linejoin="round"/>
<path d="M251.5,858.5 L251.5,870.5 M254.58,859 L254.58,870.5 M251.5,864.5 L257,863.95" fill="none" stroke="#1c1c1c" stroke-width="0.9" stroke-linecap="round" stroke-linejoin="round"/>
<path d="M247,860 C243,861 243,869 247,870" fill="none" stroke="#1c1c1c" stroke-width="1.0" stroke-linecap="round" stroke-linejoin="round" stroke-dasharray="2.5,1.5"/>
<path d="M257,858 L264,855.6 C268,856 269,864 266,867 L259,869" fill="#fff" stroke="#1c1c1c" stroke-width="1.4" stroke-linecap="round" stroke-linejoin="round"/>
<path d="M264.4,864 L281,872 M263,868 L280,876" fill="none" stroke="#1c1c1c" stroke-width="1.3" stroke-linecap="round" stroke-linejoin="round"/>
<path d="M282.4,872.4 L304,854.4 L316,858 L340,850" fill="none" stroke="#1c1c1c" stroke-width="1.3" stroke-linecap="round" stroke-linejoin="round"/>
<path d="M290,877 L326.8,862.8 M291,883 L325,870" fill="none" stroke="#1c1c1c" stroke-width="1.3" stroke-linecap="round" stroke-linejoin="round"/>
<path d="M321.6,862 L326.6,861 C329.6,862 329.6,873 326.6,874 L321.6,874 C318.6,873 318.6,862 321.6,862 Z" fill="#fff" stroke="#1c1c1c" stroke-width="1.3" stroke-linecap="round" stroke-linejoin="round"/>
<path d="M324.1,861.5 L324.1,873.5 M326.62,862 L326.62,873.5 M324.1,867.5 L328.6,866.95" fill="none" stroke="#1c1c1c" stroke-width="0.9" stroke-linecap="round" stroke-linejoin="round"/>
<path d="M320.6,863 C316.6,864 316.6,872 320.6,873" fill="none" stroke="#1c1c1c" stroke-width="1.0" stroke-linecap="round" stroke-linejoin="round" stroke-dasharray="2.5,1.5"/>
<path d="M277,879 L287,874.8 C292,875 293,885 290,888 L281,891" fill="#fff" stroke="#1c1c1c" stroke-width="1.4" stroke-linecap="round" stroke-linejoin="round"/>
<ellipse cx="281.2" cy="885.2" rx="4.6" ry="6" fill="#fff" stroke="#1c1c1c" stroke-width="1.4"/>
<ellipse cx="284.4" cy="877.4" rx="2.2" ry="2" fill="#fff" stroke="#1c1c1c" stroke-width="1.4"/>
<ellipse cx="284.4" cy="877.4" rx="0.9" ry="0.9" fill="none" stroke="#1c1c1c" stroke-width="0.9"/>
<path d="M236,884 C235,888 238,892 244,893 L258,895 C260,894 258,891 254,888 L246,885 C242,882 238,881 236,884 Z" fill="#fff" stroke="#1c1c1c" stroke-width="1.4" stroke-linecap="round" stroke-linejoin="round"/>
<path d="M243,885 L247,893" fill="none" stroke="#1c1c1c" stroke-width="1" stroke-linecap="round" stroke-linejoin="round"/>
<path d="M243,898 L252,897 C255,898 255,910 252,911 L243,911 C240,910 240,898 243,898 Z" fill="#fff" stroke="#1c1c1c" stroke-width="1.3" stroke-linecap="round" stroke-linejoin="round"/>
<path d="M247.5,897.5 L247.5,910.5 M251.14,898 L251.14,910.5 M247.5,904.0 L254,903.4" fill="none" stroke="#1c1c1c" stroke-width="0.9" stroke-linecap="round" stroke-linejoin="round"/>
<path d="M242,899 C238,900 238,909 242,910" fill="none" stroke="#1c1c1c" stroke-width="1.0" stroke-linecap="round" stroke-linejoin="round" stroke-dasharray="2.5,1.5"/>
<path d="M254.8,910.8 L275.2,921.6" fill="none" stroke="#1c1c1c" stroke-width="1.4" stroke-linecap="round" stroke-linejoin="round" stroke-dasharray="5,2"/>
<path d="M268,906 L268,914 L294.4,921.6 M268,906 L295,913" fill="none" stroke="#1c1c1c" stroke-width="1.3" stroke-linecap="round" stroke-linejoin="round"/>
<path d="M279,918 L288,917 C291,918 291,930 288,931 L279,931 C276,930 276,918 279,918 Z" fill="#fff" stroke="#1c1c1c" stroke-width="1.3" stroke-linecap="round" stroke-linejoin="round"/>
<path d="M283.5,917.5 L283.5,930.5 M287.14,918 L287.14,930.5 M283.5,924.0 L290,923.4" fill="none" stroke="#1c1c1c" stroke-width="0.9" stroke-linecap="round" stroke-linejoin="round"/>
<path d="M278,919 C274,920 274,929 278,930" fill="none" stroke="#1c1c1c" stroke-width="1.0" stroke-linecap="round" stroke-linejoin="round" stroke-dasharray="2.5,1.5"/>
<path d="M296.8,840 L296.8,921.6 M305,873 L305,920" fill="none" stroke="#1c1c1c" stroke-width="1.4" stroke-linecap="round" stroke-linejoin="round"/>
<path d="M296,922 L330,905 C335,905 337,911 334,914 L300,936" fill="#fff" stroke="#1c1c1c" stroke-width="1.4" stroke-linecap="round" stroke-linejoin="round"/>
<ellipse cx="295.6" cy="931.4" rx="4.2" ry="5.2" fill="#fff" stroke="#1c1c1c" stroke-width="1.4" transform="rotate(-15 295.6 931.4)"/>
<ellipse cx="295.6" cy="931.4" rx="1.8" ry="2.2" fill="none" stroke="#1c1c1c" stroke-width="1" transform="rotate(-15 295.6 931.4)"/>
<path d="M323,905 L331,904 C334,905 334,916 331,917 L323,917 C320,916 320,905 323,905 Z" fill="#fff" stroke="#1c1c1c" stroke-width="1.3" stroke-linecap="round" stroke-linejoin="round"/>
<path d="M327.0,904.5 L327.0,916.5 M330.36,905 L330.36,916.5 M327.0,910.5 L333,909.95" fill="none" stroke="#1c1c1c" stroke-width="0.9" stroke-linecap="round" stroke-linejoin="round"/>
<path d="M322,906 C318,907 318,915 322,916" fill="none" stroke="#1c1c1c" stroke-width="1.0" stroke-linecap="round" stroke-linejoin="round" stroke-dasharray="2.5,1.5"/>
<path d="M299.2,921.6 L322,914.4" fill="none" stroke="#1c1c1c" stroke-width="1.4" stroke-linecap="round" stroke-linejoin="round" stroke-dasharray="5,2"/>
<path d="M333,840 L333,898 M338,840 L338,898" fill="none" stroke="#1c1c1c" stroke-width="1.3" stroke-linecap="round" stroke-linejoin="round" stroke-dasharray="10,2.5"/>
<path d="M352,835 C350,848 353,860 366,867.5 L420,882" fill="none" stroke="#1c1c1c" stroke-width="1.4" stroke-linecap="round" stroke-linejoin="round"/>
<path d="M356,816 C354,820 349,826 351.6,834.8" fill="none" stroke="#1c1c1c" stroke-width="1.3" stroke-linecap="round" stroke-linejoin="round"/>
<path d="M373.2,816.8 C364,818 357,830 357,842 C357,852 360,860 366,863 L392.4,876.8 L408,870 L418,846 C418,838 414,833 408,832.4 Z" fill="#fff" stroke="#1c1c1c" stroke-width="1.4" stroke-linecap="round" stroke-linejoin="round"/>
<path d="M389,840 C391,833 397,832.5 402,833 C412,836 419,847 418,860 C417,872 410,878 402,879 C394,879 385,872 383,860 C382,851 385,844 389,840 Z" fill="#fff" stroke="#1c1c1c" stroke-width="1.5" stroke-linecap="round" stroke-linejoin="round"/>
<path d="M397,845 C399,840 403,838 407,839 C413,842 417,850 417,858 C417,866 413,871 408,871.5 C401,872 396,864 396,855 C396,851 396,848 397,845 Z" fill="#fff" stroke="#1c1c1c" stroke-width="1.4" stroke-linecap="round" stroke-linejoin="round"/>
<path d="M389,841 L395,846" fill="none" stroke="#1c1c1c" stroke-width="1.2" stroke-linecap="round" stroke-linejoin="round"/>
<path d="M386,847 L394,851" fill="none" stroke="#1c1c1c" stroke-width="1.2" stroke-linecap="round" stroke-linejoin="round"/>
<path d="M384,853 L393,856" fill="none" stroke="#1c1c1c" stroke-width="1.2" stroke-linecap="round" stroke-linejoin="round"/>
<path d="M384,859 L393,861" fill="none" stroke="#1c1c1c" stroke-width="1.2" stroke-linecap="round" stroke-linejoin="round"/>
<path d="M385,865 L394,866" fill="none" stroke="#1c1c1c" stroke-width="1.2" stroke-linecap="round" stroke-linejoin="round"/>
<path d="M388,871 L396,870" fill="none" stroke="#1c1c1c" stroke-width="1.2" stroke-linecap="round" stroke-linejoin="round"/>
<path d="M393,836 L398,843" fill="none" stroke="#1c1c1c" stroke-width="1.2" stroke-linecap="round" stroke-linejoin="round"/>
<path d="M418,825 C418,819 423,817 428,818 L436,822 C440,824 441.6,828 441.6,833 L441,845 C440,850 435,851 430,849 L421,845 C418,843 416.4,840 416.4,836 Z" fill="none" stroke="#1c1c1c" stroke-width="1.3" stroke-linecap="round" stroke-linejoin="round"/>
<path d="M420,828 C420,823 424,821 430,823 L436,826 C438,828 439,831 439,834 L438.5,844" fill="none" stroke="#1c1c1c" stroke-width="1.1" stroke-linecap="round" stroke-linejoin="round"/>
<path d="M429,827 C425,826 424,834 428,835 M431,836 C427,835 427,843 431,844" fill="none" stroke="#1c1c1c" stroke-width="1.3" stroke-linecap="round" stroke-linejoin="round"/>
<path d="M414,860 L420,855 L428,857 L426,872 L415,868 Z" fill="#fff" stroke="#1c1c1c" stroke-width="1.4" stroke-linecap="round" stroke-linejoin="round"/>
<ellipse cx="420" cy="862.4" rx="1.7" ry="1.7" fill="none" stroke="#1c1c1c" stroke-width="1"/>
<path d="M431,848 C429,843 433,840 436,842 C439,844 439,849 437,852 M438,846 C436,842 440,839 443,841 C446,843 446,849 443,851 M443,852 C442,848 446,845 449,847 C451,850 450,855 447,856" fill="none" stroke="#1c1c1c" stroke-width="1.3" stroke-linecap="round" stroke-linejoin="round"/>
<path d="M432,858 L444,852 C449,853 450,862 446,866 L436,869 C431,868 430,860 432,858 Z" fill="#fff" stroke="#1c1c1c" stroke-width="1.4" stroke-linecap="round" stroke-linejoin="round"/>
<ellipse cx="438" cy="864.8" rx="2.4" ry="2.6" fill="#fff" stroke="#1c1c1c" stroke-width="1.4"/>
<ellipse cx="438" cy="864.8" rx="0.9" ry="0.9" fill="none" stroke="#1c1c1c" stroke-width="0.9"/>
<path d="M363.6,869.6 L354,893.6 L386.4,878" fill="none" stroke="#1c1c1c" stroke-width="1.4" stroke-linecap="round" stroke-linejoin="round"/>
<path d="M379.2,878 L379.2,893.6 M385.2,876 L385.2,893 M396,876.8 L396,893.6 M406.8,872 L406.8,893.6" fill="none" stroke="#1c1c1c" stroke-width="1.3" stroke-linecap="round" stroke-linejoin="round"/>
<path d="M375.6,892.4 L397.2,893.6 L426,868.4" fill="none" stroke="#1c1c1c" stroke-width="1.4" stroke-linecap="round" stroke-linejoin="round" stroke-dasharray="8,2.5"/>
<path d="M362.4,908 L408,896 L438,867.2" fill="none" stroke="#1c1c1c" stroke-width="1.4" stroke-linecap="round" stroke-linejoin="round" stroke-dasharray="8,2.5"/>
<path d="M342.8,896.8 C346,899 348,903 352,906 L355,905.5" fill="none" stroke="#1c1c1c" stroke-width="1.3" stroke-linecap="round" stroke-linejoin="round"/>
<path d="M355,905 C355,903 360,903 360.4,905 L360.4,914 C360,917 355.5,917 355,914 Z" fill="#fff" stroke="#1c1c1c" stroke-width="1.3" stroke-linecap="round" stroke-linejoin="round"/>
<path d="M296.4,920.8 L322,914.4 M333,916 L338,917.6 L349.2,920.8 L355,916" fill="none" stroke="#1c1c1c" stroke-width="1.3" stroke-linecap="round" stroke-linejoin="round" stroke-dasharray="6,2"/>
<path d="M338,905 C341,904 343,907 343,911 L344,918" fill="none" stroke="#1c1c1c" stroke-width="1.2" stroke-linecap="round" stroke-linejoin="round"/>
<path d="M333.6,828 L333.6,898 M340.8,868 L340.8,898" fill="none" stroke="#1c1c1c" stroke-width="1.3" stroke-linecap="round" stroke-linejoin="round" stroke-dasharray="12,2.5"/>
<path d="M334,862 C333,856 337,854 341,855 C345,857 345,864 343,867 C339,869 335,867 334,862 Z" fill="#fff" stroke="#1c1c1c" stroke-width="1.4" stroke-linecap="round" stroke-linejoin="round"/>
<ellipse cx="340.8" cy="863" rx="1.2" ry="1.4" fill="none" stroke="#1c1c1c" stroke-width="1"/>
<path d="M386.4,800 L386.4,819" fill="none" stroke="#1c1c1c" stroke-width="1.4" stroke-linecap="round" stroke-linejoin="round"/>
<path d="M409.2,800 L409.2,831" fill="none" stroke="#1c1c1c" stroke-width="1.4" stroke-linecap="round" stroke-linejoin="round" stroke-dasharray="10,2.5"/>
<path d="M330,815.6 L352,806 L386.4,800" fill="none" stroke="#1c1c1c" stroke-width="1.3" stroke-linecap="round" stroke-linejoin="round"/>
<path d="M346,810 C345,805 349,803 353,804 C356,806 356,811 353,813" fill="#fff" stroke="#1c1c1c" stroke-width="1.4" stroke-linecap="round" stroke-linejoin="round"/>
<ellipse cx="351" cy="808.6" rx="1.5" ry="1.5" fill="none" stroke="#1c1c1c" stroke-width="1"/>
<path d="M340,822 C338,817 342,815 346,816 C349,818 349,823 346,825 L339,828" fill="#fff" stroke="#1c1c1c" stroke-width="1.4" stroke-linecap="round" stroke-linejoin="round"/>
<ellipse cx="343.8" cy="819.6" rx="1.5" ry="1.5" fill="none" stroke="#1c1c1c" stroke-width="1"/>
<path d="M336,829 C335,825 338,823 341,824 C343,826 343,830 341,831" fill="#fff" stroke="#1c1c1c" stroke-width="1.4" stroke-linecap="round" stroke-linejoin="round"/>
<ellipse cx="339.6" cy="827.6" rx="1.2" ry="1.2" fill="none" stroke="#1c1c1c" stroke-width="1"/>
<path d="M344,826 L386,806" fill="none" stroke="#1c1c1c" stroke-width="1.3" stroke-linecap="round" stroke-linejoin="round"/>
<path d="M433,815 L446,808 C449,808 450,813 447,815 L436,820 C431,821 430,816 433,815 Z" fill="#fff" stroke="#1c1c1c" stroke-width="1.4" stroke-linecap="round" stroke-linejoin="round"/>
<ellipse cx="433.5" cy="802" rx="1.2" ry="1.4" fill="none" stroke="#1c1c1c" stroke-width="1"/>
<ellipse cx="441.5" cy="797.5" rx="1.5" ry="1.8" fill="none" stroke="#1c1c1c" stroke-width="1"/>
<path d="M430,796 L438,792 L446,795 L447,806" fill="none" stroke="#1c1c1c" stroke-width="1.3" stroke-linecap="round" stroke-linejoin="round"/>
<path d="M444,810 L444,844 M450.5,810 L451.5,844" fill="none" stroke="#1c1c1c" stroke-width="1.4" stroke-linecap="round" stroke-linejoin="round"/>
<path d="M466,807 C458,809 453,815 454,822 C455,826 460,826 468,823" fill="none" stroke="#1c1c1c" stroke-width="1.3" stroke-linecap="round" stroke-linejoin="round"/>
<path d="M450,836 L491,813" fill="none" stroke="#1c1c1c" stroke-width="1.3" stroke-linecap="round" stroke-linejoin="round"/>
<path d="M458,842 L472,833" fill="none" stroke="#1c1c1c" stroke-width="1.4" stroke-linecap="round" stroke-linejoin="round" stroke-dasharray="6,2"/>
<path d="M467,817 L490,805 M468,820 L490,818" fill="none" stroke="#1c1c1c" stroke-width="1.3" stroke-linecap="round" stroke-linejoin="round"/>
<path d="M456,813 L468,820" fill="none" stroke="#1c1c1c" stroke-width="1.2" stroke-linecap="round" stroke-linejoin="round"/>
<path d="M488,810 C495,812 500,818 500,823 M487,813 C492,815 496,819 496,823" fill="none" stroke="#1c1c1c" stroke-width="1.3" stroke-linecap="round" stroke-linejoin="round"/>
<path d="M491,790 L491,810 M502,790 L502,820" fill="none" stroke="#1c1c1c" stroke-width="1.3" stroke-linecap="round" stroke-linejoin="round"/>
<path d="M516,790 L514,803 L506,803 L506,819 L516,815 L516,808" fill="none" stroke="#1c1c1c" stroke-width="1.4" stroke-linecap="round" stroke-linejoin="round" stroke-dasharray="6,2"/>
<path d="M445,838 C448,839 450,844 448,847 M440,846 C436,845 434,850 436,854 C438,857 442,856 443,852" fill="none" stroke="#1c1c1c" stroke-width="1.3" stroke-linecap="round" stroke-linejoin="round"/>
<path d="M439,856 L447,852 L450,857 L442,863 Z" fill="none" stroke="#1c1c1c" stroke-width="1.2" stroke-linecap="round" stroke-linejoin="round"/>
<path d="M435,870 C432,866 436,862 440,863 C443,866 442,870 439,872" fill="none" stroke="#1c1c1c" stroke-width="1.2" stroke-linecap="round" stroke-linejoin="round"/>
<path transform="translate(432.6,58.5)" d="M1.5,2.5 L9.5,2.5 C9.5,7 7,10 2.5,11.5 M11,1.3 m-1.1,0 a1.1,1.1 0 1,0 2.2,0 a1.1,1.1 0 1,0 -2.2,0" fill="none" stroke="#111" stroke-width="1.45" stroke-linecap="round" stroke-linejoin="round"/>
<path transform="translate(445,58.5)" d="M1,6.5 L11,6.5" fill="none" stroke="#111" stroke-width="1.45" stroke-linecap="round" stroke-linejoin="round"/>
<path transform="translate(458.5,58.5)" d="M3,2 L3,7.5 M8.5,1.5 L8.5,6 C8.5,9 7,10.5 4.5,11.5" fill="none" stroke="#111" stroke-width="1.45" stroke-linecap="round" stroke-linejoin="round"/>
<path transform="translate(472,58.5)" d="M6,6.5 m-1,0 a1,1 0 1,0 2,0 a1,1 0 1,0 -2,0" fill="#111" stroke="#111" stroke-width="1.45" stroke-linecap="round" stroke-linejoin="round"/>
<path transform="translate(486,58.5)" d="M5,1 C4,3.5 3,4.5 1.2,6 M4,3 L10,3 C9.5,7 7,10 2.5,11.5 M4,5.8 L8.5,8.3" fill="none" stroke="#111" stroke-width="1.45" stroke-linecap="round" stroke-linejoin="round"/>
<path transform="translate(498,58.5)" d="M10.5,1 C8,4 5,6 1,7.5 M6.5,5 L6.5,11.8" fill="none" stroke="#111" stroke-width="1.45" stroke-linecap="round" stroke-linejoin="round"/>
<path transform="translate(512.5,58.5)" d="M2.5,1.5 L9,3 M3,5 L8.5,6.5 M2,8.5 L10,11" fill="none" stroke="#111" stroke-width="1.45" stroke-linecap="round" stroke-linejoin="round"/>
<path transform="translate(526,58.5)" d="M2,2.5 L5,4.3 M1.5,11 C6,10 9,7 10.5,3" fill="none" stroke="#111" stroke-width="1.45" stroke-linecap="round" stroke-linejoin="round"/>
<path transform="translate(539,58.5)" d="M5,1 C4,3.5 3,4.5 1.2,6 M4,3 L10,3 C9.5,7 7,10 2.5,11.5 M10,0.3 L10.8,2 M11.6,0 L12.4,1.7" fill="none" stroke="#111" stroke-width="1.45" stroke-linecap="round" stroke-linejoin="round"/>
<path transform="translate(552.5,58.5)" d="M0.8,7.5 L4.5,3.5 L11,10.5 M8.5,2.5 L9.2,4 M10.2,2 L10.9,3.5" fill="none" stroke="#111" stroke-width="1.45" stroke-linecap="round" stroke-linejoin="round"/>
<path transform="translate(565.5,58.5)" d="M3.5,2 L3.5,7 C3.5,9 2.5,10.5 1,11.5 M6.5,1.5 L6.5,11 C8.5,10 10,8.5 11,7" fill="none" stroke="#111" stroke-width="1.45" stroke-linecap="round" stroke-linejoin="round"/>
<path transform="translate(580,58.5)" d="M4.5,1 L4.5,11.8 M5,4.5 L9.5,7" fill="none" stroke="#111" stroke-width="1.45" stroke-linecap="round" stroke-linejoin="round"/>
</svg>
</body></html>
